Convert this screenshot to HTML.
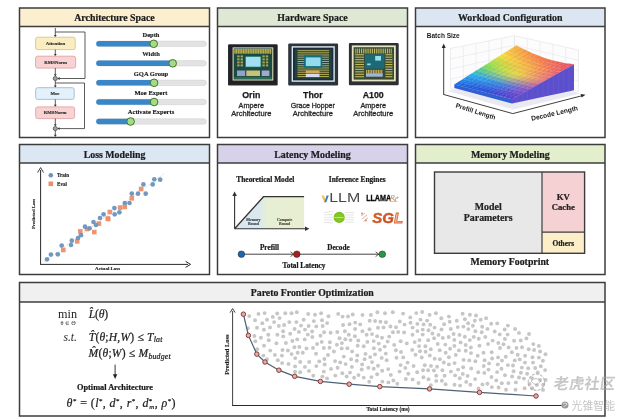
<!DOCTYPE html>
<html><head><meta charset="utf-8"><title>Framework Overview</title>
<style>html,body{margin:0;padding:0;background:#fff;} svg{display:block;}</style>
</head><body>
<svg width="627" height="419" viewBox="0 0 627 419"><rect x="19.5" y="8" width="190.0" height="129.5" fill="#ffffff"/>
<rect x="19.5" y="8" width="190.0" height="18.5" fill="#fcefcf"/>
<line x1="19.5" y1="26.5" x2="209.5" y2="26.5" stroke="#3c3c3c" stroke-width="1.3"/>
<rect x="19.5" y="8" width="190.0" height="129.5" fill="none" stroke="#3c3c3c" stroke-width="1.5"/>
<text x="114.5" y="21.408" font-family="'Liberation Serif', 'Times New Roman', serif" font-size="9.9" font-weight="bold" font-style="normal" text-anchor="middle" fill="#1c1c1c"  stroke="#1c1c1c" stroke-width="0.22">Architecture Space</text>
<rect x="217.5" y="8" width="190.0" height="129.5" fill="#ffffff"/>
<rect x="217.5" y="8" width="190.0" height="18.5" fill="#dfe8d4"/>
<line x1="217.5" y1="26.5" x2="407.5" y2="26.5" stroke="#3c3c3c" stroke-width="1.3"/>
<rect x="217.5" y="8" width="190.0" height="129.5" fill="none" stroke="#3c3c3c" stroke-width="1.5"/>
<text x="312.5" y="21.408" font-family="'Liberation Serif', 'Times New Roman', serif" font-size="9.9" font-weight="bold" font-style="normal" text-anchor="middle" fill="#1c1c1c"  stroke="#1c1c1c" stroke-width="0.22">Hardware Space</text>
<rect x="415.5" y="8" width="189.5" height="129.5" fill="#ffffff"/>
<rect x="415.5" y="8" width="189.5" height="18.5" fill="#dce6f2"/>
<line x1="415.5" y1="26.5" x2="605" y2="26.5" stroke="#3c3c3c" stroke-width="1.3"/>
<rect x="415.5" y="8" width="189.5" height="129.5" fill="none" stroke="#3c3c3c" stroke-width="1.5"/>
<text x="510.25" y="21.408" font-family="'Liberation Serif', 'Times New Roman', serif" font-size="9.9" font-weight="bold" font-style="normal" text-anchor="middle" fill="#1c1c1c"  stroke="#1c1c1c" stroke-width="0.22">Workload Configuration</text>
<rect x="19.5" y="144.5" width="190.0" height="130.0" fill="#ffffff"/>
<rect x="19.5" y="144.5" width="190.0" height="18.5" fill="#dbe7f3"/>
<line x1="19.5" y1="163" x2="209.5" y2="163" stroke="#3c3c3c" stroke-width="1.3"/>
<rect x="19.5" y="144.5" width="190.0" height="130.0" fill="none" stroke="#3c3c3c" stroke-width="1.5"/>
<text x="114.5" y="157.908" font-family="'Liberation Serif', 'Times New Roman', serif" font-size="9.9" font-weight="bold" font-style="normal" text-anchor="middle" fill="#1c1c1c"  stroke="#1c1c1c" stroke-width="0.22">Loss Modeling</text>
<rect x="217.5" y="144.5" width="190.0" height="130.0" fill="#ffffff"/>
<rect x="217.5" y="144.5" width="190.0" height="18.5" fill="#d7d2ea"/>
<line x1="217.5" y1="163" x2="407.5" y2="163" stroke="#3c3c3c" stroke-width="1.3"/>
<rect x="217.5" y="144.5" width="190.0" height="130.0" fill="none" stroke="#3c3c3c" stroke-width="1.5"/>
<text x="312.5" y="157.908" font-family="'Liberation Serif', 'Times New Roman', serif" font-size="9.9" font-weight="bold" font-style="normal" text-anchor="middle" fill="#1c1c1c"  stroke="#1c1c1c" stroke-width="0.22">Latency Modeling</text>
<rect x="415.5" y="144.5" width="189.5" height="130.0" fill="#ffffff"/>
<rect x="415.5" y="144.5" width="189.5" height="18.5" fill="#e3eecd"/>
<line x1="415.5" y1="163" x2="605" y2="163" stroke="#3c3c3c" stroke-width="1.3"/>
<rect x="415.5" y="144.5" width="189.5" height="130.0" fill="none" stroke="#3c3c3c" stroke-width="1.5"/>
<text x="510.25" y="157.908" font-family="'Liberation Serif', 'Times New Roman', serif" font-size="9.9" font-weight="bold" font-style="normal" text-anchor="middle" fill="#1c1c1c"  stroke="#1c1c1c" stroke-width="0.22">Memory Modeling</text>
<rect x="19.5" y="282.5" width="585.5" height="133.5" fill="#ffffff"/>
<rect x="19.5" y="282.5" width="585.5" height="19.5" fill="#f0f0f0"/>
<line x1="19.5" y1="302" x2="605" y2="302" stroke="#3c3c3c" stroke-width="1.3"/>
<rect x="19.5" y="282.5" width="585.5" height="133.5" fill="none" stroke="#3c3c3c" stroke-width="1.5"/>
<text x="312.25" y="296.366" font-family="'Liberation Serif', 'Times New Roman', serif" font-size="9.8" font-weight="bold" font-style="normal" text-anchor="middle" fill="#1c1c1c"  stroke="#1c1c1c" stroke-width="0.22">Pareto Frontier Optimization</text>
<polyline points="55.3,32 85,32 85,78.5" fill="none" stroke="#333" stroke-width="0.8"/>
<line x1="55.3" y1="28" x2="55.3" y2="35.400000000000006" stroke="#333" stroke-width="0.8"/>
<path d="M53.9,35.0 L56.699999999999996,35.0 L55.3,37.2 Z" fill="#333"/>
<rect x="35.6" y="37.2" width="39.6" height="12.399999999999999" rx="2" fill="#fbedc2" stroke="#d9c487" stroke-width="0.9"/>
<text x="55.400000000000006" y="45.10000000000001" font-family="'Liberation Serif', 'Times New Roman', serif" font-size="4.8" font-weight="bold" font-style="normal" text-anchor="middle" fill="#2a2a2a"  stroke="#2a2a2a" stroke-width="0.14">Attention</text>
<line x1="55.3" y1="49.6" x2="55.3" y2="54.400000000000006" stroke="#333" stroke-width="0.8"/>
<path d="M53.9,54.0 L56.699999999999996,54.0 L55.3,56.2 Z" fill="#333"/>
<rect x="35.6" y="56.2" width="39.99999999999999" height="11.899999999999991" rx="2" fill="#f9d3d3" stroke="#e0a4a4" stroke-width="0.9"/>
<text x="55.599999999999994" y="63.85" font-family="'Liberation Serif', 'Times New Roman', serif" font-size="4.8" font-weight="bold" font-style="normal" text-anchor="middle" fill="#2a2a2a"  stroke="#2a2a2a" stroke-width="0.14">RMSNorm</text>
<line x1="55.3" y1="68.1" x2="55.3" y2="74.60000000000001" stroke="#333" stroke-width="0.8"/>
<path d="M53.9,74.2 L56.699999999999996,74.2 L55.3,76.4 Z" fill="#333"/>
<circle cx="55.3" cy="78.5" r="2.1" fill="#a0a0a0" stroke="#444" stroke-width="0.7"/>
<line x1="85" y1="78.5" x2="59.199999999999996" y2="78.5" stroke="#333" stroke-width="0.8"/>
<path d="M59.6,77.1 L59.6,79.9 L57.4,78.5 Z" fill="#333"/>
<polyline points="55.3,83 84.5,83 84.5,128.6" fill="none" stroke="#333" stroke-width="0.8"/>
<line x1="55.3" y1="80.6" x2="55.3" y2="85.9" stroke="#333" stroke-width="0.8"/>
<path d="M53.9,85.5 L56.699999999999996,85.5 L55.3,87.7 Z" fill="#333"/>
<rect x="35.7" y="87.7" width="38.5" height="11.700000000000003" rx="2" fill="#e2f1fb" stroke="#9dbbd3" stroke-width="0.9"/>
<text x="54.95" y="95.25000000000001" font-family="'Liberation Serif', 'Times New Roman', serif" font-size="4.8" font-weight="bold" font-style="normal" text-anchor="middle" fill="#2a2a2a"  stroke="#2a2a2a" stroke-width="0.14">Moe</text>
<line x1="55.3" y1="99.4" x2="55.3" y2="105.10000000000001" stroke="#333" stroke-width="0.8"/>
<path d="M53.9,104.7 L56.699999999999996,104.7 L55.3,106.9 Z" fill="#333"/>
<rect x="35.7" y="106.9" width="38.89999999999999" height="11.699999999999989" rx="2" fill="#f9d3d3" stroke="#e0a4a4" stroke-width="0.9"/>
<text x="55.15" y="114.45" font-family="'Liberation Serif', 'Times New Roman', serif" font-size="4.8" font-weight="bold" font-style="normal" text-anchor="middle" fill="#2a2a2a"  stroke="#2a2a2a" stroke-width="0.14">RMSNorm</text>
<line x1="55.3" y1="118.6" x2="55.3" y2="124.7" stroke="#333" stroke-width="0.8"/>
<path d="M53.9,124.3 L56.699999999999996,124.3 L55.3,126.5 Z" fill="#333"/>
<circle cx="55.3" cy="128.6" r="2.1" fill="#a0a0a0" stroke="#444" stroke-width="0.7"/>
<line x1="84.5" y1="128.6" x2="59.199999999999996" y2="128.6" stroke="#333" stroke-width="0.8"/>
<path d="M59.6,127.19999999999999 L59.6,130.0 L57.4,128.6 Z" fill="#333"/>
<line x1="55.3" y1="130.7" x2="55.3" y2="135.2" stroke="#333" stroke-width="0.8"/>
<path d="M53.9,134.8 L56.699999999999996,134.8 L55.3,137 Z" fill="#333"/>
<rect x="96.2" y="41.099999999999994" width="110.2" height="5.4" rx="2.7" fill="#e3e3e3" stroke="#cfcfcf" stroke-width="0.5"/>
<rect x="96.2" y="41.099999999999994" width="57.499999999999986" height="5.4" rx="2.7" fill="#3a87c8"/>
<circle cx="153.7" cy="43.8" r="3.8" fill="#a6d98a" stroke="#3f7a2a" stroke-width="1"/>
<text x="151" y="36.5" font-family="'Liberation Serif', 'Times New Roman', serif" font-size="6.5" font-weight="bold" font-style="normal" text-anchor="middle" fill="#1a1a1a"  stroke="#1a1a1a" stroke-width="0.14">Depth</text>
<rect x="96.2" y="60.599999999999994" width="110.2" height="5.4" rx="2.7" fill="#e3e3e3" stroke="#cfcfcf" stroke-width="0.5"/>
<rect x="96.2" y="60.599999999999994" width="76.49999999999999" height="5.4" rx="2.7" fill="#3a87c8"/>
<circle cx="172.7" cy="63.3" r="3.8" fill="#a6d98a" stroke="#3f7a2a" stroke-width="1"/>
<text x="151" y="56.0" font-family="'Liberation Serif', 'Times New Roman', serif" font-size="6.5" font-weight="bold" font-style="normal" text-anchor="middle" fill="#1a1a1a"  stroke="#1a1a1a" stroke-width="0.14">Width</text>
<rect x="96.2" y="80.1" width="110.2" height="5.4" rx="2.7" fill="#e3e3e3" stroke="#cfcfcf" stroke-width="0.5"/>
<rect x="96.2" y="80.1" width="57.89999999999999" height="5.4" rx="2.7" fill="#3a87c8"/>
<circle cx="154.1" cy="82.8" r="3.8" fill="#a6d98a" stroke="#3f7a2a" stroke-width="1"/>
<text x="151" y="75.5" font-family="'Liberation Serif', 'Times New Roman', serif" font-size="6.5" font-weight="bold" font-style="normal" text-anchor="middle" fill="#1a1a1a"  stroke="#1a1a1a" stroke-width="0.14">GQA Group</text>
<rect x="96.2" y="99.3" width="110.2" height="5.4" rx="2.7" fill="#e3e3e3" stroke="#cfcfcf" stroke-width="0.5"/>
<rect x="96.2" y="99.3" width="57.89999999999999" height="5.4" rx="2.7" fill="#3a87c8"/>
<circle cx="154.1" cy="102.0" r="3.8" fill="#a6d98a" stroke="#3f7a2a" stroke-width="1"/>
<text x="151" y="94.7" font-family="'Liberation Serif', 'Times New Roman', serif" font-size="6.5" font-weight="bold" font-style="normal" text-anchor="middle" fill="#1a1a1a"  stroke="#1a1a1a" stroke-width="0.14">Moe Expert</text>
<rect x="96.2" y="118.8" width="110.2" height="5.4" rx="2.7" fill="#e3e3e3" stroke="#cfcfcf" stroke-width="0.5"/>
<rect x="96.2" y="118.8" width="34.39999999999999" height="5.4" rx="2.7" fill="#3a87c8"/>
<circle cx="130.6" cy="121.5" r="3.8" fill="#a6d98a" stroke="#3f7a2a" stroke-width="1"/>
<text x="151" y="114.2" font-family="'Liberation Serif', 'Times New Roman', serif" font-size="6.5" font-weight="bold" font-style="normal" text-anchor="middle" fill="#1a1a1a"  stroke="#1a1a1a" stroke-width="0.14">Activate Experts</text>
<rect x="228.00" y="44.20" width="49.70" height="41.20" fill="#2a2d31" rx="1.2"/>
<rect x="229.00" y="45.20" width="47.70" height="39.20" fill="#1f2226" />
<rect x="232.60" y="47.40" width="40.70" height="33.10" fill="#ece6bf" />
<rect x="233.60" y="48.40" width="38.70" height="31.10" fill="#1d4a40" />
<rect x="234.40" y="49.00" width="37.10" height="4.60" fill="#7f7c38" />
<rect x="234.60" y="49.00" width="0.80" height="4.60" fill="#c4b860" />
<rect x="236.29" y="49.00" width="0.80" height="4.60" fill="#c4b860" />
<rect x="237.97" y="49.00" width="0.80" height="4.60" fill="#c4b860" />
<rect x="239.66" y="49.00" width="0.80" height="4.60" fill="#c4b860" />
<rect x="241.35" y="49.00" width="0.80" height="4.60" fill="#c4b860" />
<rect x="243.03" y="49.00" width="0.80" height="4.60" fill="#c4b860" />
<rect x="244.72" y="49.00" width="0.80" height="4.60" fill="#c4b860" />
<rect x="246.40" y="49.00" width="0.80" height="4.60" fill="#c4b860" />
<rect x="248.09" y="49.00" width="0.80" height="4.60" fill="#c4b860" />
<rect x="249.78" y="49.00" width="0.80" height="4.60" fill="#c4b860" />
<rect x="251.46" y="49.00" width="0.80" height="4.60" fill="#c4b860" />
<rect x="253.15" y="49.00" width="0.80" height="4.60" fill="#c4b860" />
<rect x="254.84" y="49.00" width="0.80" height="4.60" fill="#c4b860" />
<rect x="256.52" y="49.00" width="0.80" height="4.60" fill="#c4b860" />
<rect x="258.21" y="49.00" width="0.80" height="4.60" fill="#c4b860" />
<rect x="259.90" y="49.00" width="0.80" height="4.60" fill="#c4b860" />
<rect x="261.58" y="49.00" width="0.80" height="4.60" fill="#c4b860" />
<rect x="263.27" y="49.00" width="0.80" height="4.60" fill="#c4b860" />
<rect x="264.95" y="49.00" width="0.80" height="4.60" fill="#c4b860" />
<rect x="266.64" y="49.00" width="0.80" height="4.60" fill="#c4b860" />
<rect x="268.33" y="49.00" width="0.80" height="4.60" fill="#c4b860" />
<rect x="270.01" y="49.00" width="0.80" height="4.60" fill="#c4b860" />
<rect x="237.20" y="55.40" width="2.40" height="2.00" fill="#a8a450" />
<rect x="237.20" y="58.40" width="2.40" height="2.00" fill="#a8a450" />
<rect x="237.20" y="61.40" width="2.40" height="2.00" fill="#a8a450" />
<rect x="237.20" y="64.40" width="2.40" height="2.00" fill="#a8a450" />
<rect x="240.60" y="55.40" width="2.40" height="2.00" fill="#a8a450" />
<rect x="240.60" y="58.40" width="2.40" height="2.00" fill="#a8a450" />
<rect x="240.60" y="61.40" width="2.40" height="2.00" fill="#a8a450" />
<rect x="240.60" y="64.40" width="2.40" height="2.00" fill="#a8a450" />
<rect x="262.40" y="55.40" width="2.40" height="2.00" fill="#a8a450" />
<rect x="262.40" y="58.40" width="2.40" height="2.00" fill="#a8a450" />
<rect x="262.40" y="61.40" width="2.40" height="2.00" fill="#a8a450" />
<rect x="262.40" y="64.40" width="2.40" height="2.00" fill="#a8a450" />
<rect x="265.80" y="55.40" width="2.40" height="2.00" fill="#a8a450" />
<rect x="265.80" y="58.40" width="2.40" height="2.00" fill="#a8a450" />
<rect x="265.80" y="61.40" width="2.40" height="2.00" fill="#a8a450" />
<rect x="265.80" y="64.40" width="2.40" height="2.00" fill="#a8a450" />
<rect x="245.00" y="56.00" width="16.40" height="11.50" fill="#127060" />
<rect x="245.80" y="56.80" width="14.80" height="9.90" fill="#a4def0" />
<rect x="237.00" y="70.50" width="8.20" height="5.50" fill="#93a2cc" />
<rect x="246.30" y="70.50" width="13.70" height="5.50" fill="#c9c275" />
<rect x="261.70" y="70.50" width="7.70" height="5.50" fill="#a5a6d2" />
<rect x="234.40" y="76.80" width="37.10" height="2.20" fill="#2c6a55" />
<rect x="288.20" y="43.60" width="49.90" height="41.80" fill="#2d333b" rx="1.2"/>
<rect x="291.60" y="46.20" width="43.20" height="35.60" fill="#dbe9f2" />
<rect x="293.00" y="47.60" width="40.40" height="32.80" fill="#1b2c40" />
<rect x="294.60" y="49.00" width="37.20" height="29.80" fill="#22413a" />
<rect x="297.50" y="50.20" width="31.50" height="1.00" fill="#b9ac58" />
<rect x="297.50" y="52.35" width="31.50" height="1.00" fill="#b9ac58" />
<rect x="297.50" y="54.51" width="31.50" height="1.00" fill="#b9ac58" />
<rect x="297.50" y="56.66" width="31.50" height="1.00" fill="#b9ac58" />
<rect x="297.50" y="58.82" width="31.50" height="1.00" fill="#b9ac58" />
<rect x="297.50" y="60.97" width="31.50" height="1.00" fill="#b9ac58" />
<rect x="297.50" y="63.12" width="31.50" height="1.00" fill="#b9ac58" />
<rect x="297.50" y="65.28" width="31.50" height="1.00" fill="#b9ac58" />
<rect x="297.50" y="67.43" width="31.50" height="1.00" fill="#b9ac58" />
<rect x="297.50" y="69.58" width="31.50" height="1.00" fill="#b9ac58" />
<rect x="297.50" y="71.74" width="31.50" height="1.00" fill="#b9ac58" />
<rect x="297.50" y="73.89" width="31.50" height="1.00" fill="#b9ac58" />
<rect x="297.50" y="76.05" width="31.50" height="1.00" fill="#b9ac58" />
<rect x="304.10" y="55.20" width="18.10" height="12.60" fill="#10707e" />
<rect x="305.80" y="57.40" width="14.80" height="8.70" fill="#95dbf0" />
<rect x="305.80" y="70.50" width="13.70" height="2.80" fill="#d2a85a" />
<rect x="305.80" y="73.80" width="13.70" height="3.30" fill="#d6dcef" />
<rect x="348.90" y="42.90" width="49.80" height="42.30" fill="#2c3032" rx="1.2"/>
<rect x="351.80" y="45.40" width="44.00" height="36.00" fill="#e6e2c4" />
<rect x="353.60" y="47.20" width="40.40" height="32.40" fill="#3a4a30" />
<rect x="355.40" y="48.60" width="0.90" height="4.90" fill="#cfc46a" />
<rect x="357.26" y="48.60" width="0.90" height="4.90" fill="#cfc46a" />
<rect x="359.12" y="48.60" width="0.90" height="4.90" fill="#cfc46a" />
<rect x="360.98" y="48.60" width="0.90" height="4.90" fill="#cfc46a" />
<rect x="362.84" y="48.60" width="0.90" height="4.90" fill="#cfc46a" />
<rect x="364.70" y="48.60" width="0.90" height="4.90" fill="#cfc46a" />
<rect x="366.56" y="48.60" width="0.90" height="4.90" fill="#cfc46a" />
<rect x="368.42" y="48.60" width="0.90" height="4.90" fill="#cfc46a" />
<rect x="370.28" y="48.60" width="0.90" height="4.90" fill="#cfc46a" />
<rect x="372.14" y="48.60" width="0.90" height="4.90" fill="#cfc46a" />
<rect x="374.00" y="48.60" width="0.90" height="4.90" fill="#cfc46a" />
<rect x="375.86" y="48.60" width="0.90" height="4.90" fill="#cfc46a" />
<rect x="377.72" y="48.60" width="0.90" height="4.90" fill="#cfc46a" />
<rect x="379.58" y="48.60" width="0.90" height="4.90" fill="#cfc46a" />
<rect x="381.44" y="48.60" width="0.90" height="4.90" fill="#cfc46a" />
<rect x="383.30" y="48.60" width="0.90" height="4.90" fill="#cfc46a" />
<rect x="385.16" y="48.60" width="0.90" height="4.90" fill="#cfc46a" />
<rect x="387.02" y="48.60" width="0.90" height="4.90" fill="#cfc46a" />
<rect x="388.88" y="48.60" width="0.90" height="4.90" fill="#cfc46a" />
<rect x="390.74" y="48.60" width="0.90" height="4.90" fill="#cfc46a" />
<rect x="355.20" y="54.20" width="8.80" height="1.10" fill="#c2b85e" />
<rect x="355.20" y="56.64" width="8.80" height="1.10" fill="#c2b85e" />
<rect x="355.20" y="59.08" width="8.80" height="1.10" fill="#c2b85e" />
<rect x="355.20" y="61.52" width="8.80" height="1.10" fill="#c2b85e" />
<rect x="355.20" y="63.96" width="8.80" height="1.10" fill="#c2b85e" />
<rect x="355.20" y="66.40" width="8.80" height="1.10" fill="#c2b85e" />
<rect x="355.20" y="68.84" width="8.80" height="1.10" fill="#c2b85e" />
<rect x="355.20" y="71.28" width="8.80" height="1.10" fill="#c2b85e" />
<rect x="355.20" y="73.72" width="8.80" height="1.10" fill="#c2b85e" />
<rect x="355.20" y="76.16" width="8.80" height="1.10" fill="#c2b85e" />
<rect x="385.40" y="54.20" width="7.00" height="1.10" fill="#c2b85e" />
<rect x="385.40" y="56.64" width="7.00" height="1.10" fill="#c2b85e" />
<rect x="385.40" y="59.08" width="7.00" height="1.10" fill="#c2b85e" />
<rect x="385.40" y="61.52" width="7.00" height="1.10" fill="#c2b85e" />
<rect x="385.40" y="63.96" width="7.00" height="1.10" fill="#c2b85e" />
<rect x="385.40" y="66.40" width="7.00" height="1.10" fill="#c2b85e" />
<rect x="385.40" y="68.84" width="7.00" height="1.10" fill="#c2b85e" />
<rect x="385.40" y="71.28" width="7.00" height="1.10" fill="#c2b85e" />
<rect x="385.40" y="73.72" width="7.00" height="1.10" fill="#c2b85e" />
<rect x="385.40" y="76.16" width="7.00" height="1.10" fill="#c2b85e" />
<rect x="364.90" y="54.30" width="19.50" height="14.30" fill="#1c6a78" />
<rect x="375.20" y="56.00" width="5.80" height="4.60" fill="#96e0ee" />
<rect x="367.20" y="63.50" width="3.40" height="1.70" fill="#96e0ee" />
<rect x="366.20" y="69.80" width="1.00" height="3.40" fill="#d8b860" />
<rect x="367.87" y="69.80" width="1.00" height="3.40" fill="#d8b860" />
<rect x="369.54" y="69.80" width="1.00" height="3.40" fill="#d8b860" />
<rect x="371.21" y="69.80" width="1.00" height="3.40" fill="#d8b860" />
<rect x="372.88" y="69.80" width="1.00" height="3.40" fill="#d8b860" />
<rect x="374.55" y="69.80" width="1.00" height="3.40" fill="#d8b860" />
<rect x="376.22" y="69.80" width="1.00" height="3.40" fill="#d8b860" />
<rect x="377.89" y="69.80" width="1.00" height="3.40" fill="#d8b860" />
<rect x="379.56" y="69.80" width="1.00" height="3.40" fill="#d8b860" />
<rect x="381.23" y="69.80" width="1.00" height="3.40" fill="#d8b860" />
<rect x="366.00" y="73.20" width="16.70" height="3.50" fill="#9fb6da" />
<text x="251.3" y="98.4" font-family="'Liberation Sans', Arial, sans-serif" font-size="8.8" font-weight="bold" font-style="normal" text-anchor="middle" fill="#1a1a1a" stroke="#1a1a1a" stroke-width="0.25">Orin</text>
<text x="251.3" y="108.4" font-family="'Liberation Sans', Arial, sans-serif" font-size="7.3" font-weight="normal" font-style="normal" text-anchor="middle" fill="#2a2a2a" stroke="#2a2a2a" stroke-width="0.3">Ampere</text>
<text x="251.3" y="115.8" font-family="'Liberation Sans', Arial, sans-serif" font-size="7.5" font-weight="normal" font-style="normal" text-anchor="middle" fill="#2a2a2a" stroke="#2a2a2a" stroke-width="0.3">Architecture</text>
<text x="312.8" y="98.4" font-family="'Liberation Sans', Arial, sans-serif" font-size="8.8" font-weight="bold" font-style="normal" text-anchor="middle" fill="#1a1a1a" stroke="#1a1a1a" stroke-width="0.25">Thor</text>
<text x="312.8" y="108.4" font-family="'Liberation Sans', Arial, sans-serif" font-size="7.0" font-weight="normal" font-style="normal" text-anchor="middle" fill="#2a2a2a" stroke="#2a2a2a" stroke-width="0.3">Grace Hopper</text>
<text x="312.8" y="115.8" font-family="'Liberation Sans', Arial, sans-serif" font-size="7.5" font-weight="normal" font-style="normal" text-anchor="middle" fill="#2a2a2a" stroke="#2a2a2a" stroke-width="0.3">Architecture</text>
<text x="373.2" y="98.4" font-family="'Liberation Sans', Arial, sans-serif" font-size="8.8" font-weight="bold" font-style="normal" text-anchor="middle" fill="#1a1a1a" stroke="#1a1a1a" stroke-width="0.25">A100</text>
<text x="373.2" y="108.4" font-family="'Liberation Sans', Arial, sans-serif" font-size="7.3" font-weight="normal" font-style="normal" text-anchor="middle" fill="#2a2a2a" stroke="#2a2a2a" stroke-width="0.3">Ampere</text>
<text x="373.2" y="115.8" font-family="'Liberation Sans', Arial, sans-serif" font-size="7.5" font-weight="normal" font-style="normal" text-anchor="middle" fill="#2a2a2a" stroke="#2a2a2a" stroke-width="0.3">Architecture</text>
<polygon points="447.50,91.00 513.00,109.50 580.50,93.50 515.50,74.00" fill="#e9e9f1"/>
<polygon points="450.50,89.50 514.50,74.00 514.50,35.70 450.50,48.50" fill="#fcfcfd" stroke="#dcdce2" stroke-width="0.5"/>
<polygon points="514.50,74.00 578.50,91.50 578.50,50.00 514.50,35.70" fill="#fcfcfd" stroke="#dcdce2" stroke-width="0.5"/>
<line x1="463.30" y1="86.40" x2="463.30" y2="45.94" stroke="#e2e2e8" stroke-width="0.5"/>
<line x1="527.30" y1="77.50" x2="527.30" y2="38.56" stroke="#e2e2e8" stroke-width="0.5"/>
<line x1="476.10" y1="83.30" x2="476.10" y2="43.38" stroke="#e2e2e8" stroke-width="0.5"/>
<line x1="540.10" y1="81.00" x2="540.10" y2="41.42" stroke="#e2e2e8" stroke-width="0.5"/>
<line x1="488.90" y1="80.20" x2="488.90" y2="40.82" stroke="#e2e2e8" stroke-width="0.5"/>
<line x1="552.90" y1="84.50" x2="552.90" y2="44.28" stroke="#e2e2e8" stroke-width="0.5"/>
<line x1="501.70" y1="77.10" x2="501.70" y2="38.26" stroke="#e2e2e8" stroke-width="0.5"/>
<line x1="565.70" y1="88.00" x2="565.70" y2="47.14" stroke="#e2e2e8" stroke-width="0.5"/>
<line x1="450.50" y1="79.25" x2="514.50" y2="64.42" stroke="#e2e2e8" stroke-width="0.5"/>
<line x1="514.50" y1="64.42" x2="578.50" y2="81.12" stroke="#e2e2e8" stroke-width="0.5"/>
<line x1="450.50" y1="69.00" x2="514.50" y2="54.85" stroke="#e2e2e8" stroke-width="0.5"/>
<line x1="514.50" y1="54.85" x2="578.50" y2="70.75" stroke="#e2e2e8" stroke-width="0.5"/>
<line x1="450.50" y1="58.75" x2="514.50" y2="45.28" stroke="#e2e2e8" stroke-width="0.5"/>
<line x1="514.50" y1="45.28" x2="578.50" y2="60.38" stroke="#e2e2e8" stroke-width="0.5"/>
<polygon points="511.97,48.19 516.09,50.43 520.51,47.73 516.40,45.40" fill="rgb(247,175,71)" stroke="rgb(247,175,71)" stroke-width="0.35" stroke-opacity="0.6"/>
<polygon points="516.09,50.43 520.20,52.23 524.63,49.58 520.51,47.73" fill="rgb(247,166,72)" stroke="rgb(247,166,72)" stroke-width="0.35" stroke-opacity="0.6"/>
<polygon points="507.54,50.99 511.66,53.13 516.09,50.43 511.97,48.19" fill="rgb(247,190,68)" stroke="rgb(247,190,68)" stroke-width="0.35" stroke-opacity="0.6"/>
<polygon points="520.20,52.23 524.31,54.18 528.74,51.60 524.63,49.58" fill="rgb(247,158,73)" stroke="rgb(247,158,73)" stroke-width="0.35" stroke-opacity="0.6"/>
<polygon points="503.11,53.78 507.23,55.83 511.66,53.13 507.54,50.99" fill="rgb(246,205,65)" stroke="rgb(246,205,65)" stroke-width="0.35" stroke-opacity="0.6"/>
<polygon points="511.66,53.13 515.77,54.87 520.20,52.23 516.09,50.43" fill="rgb(247,182,69)" stroke="rgb(247,182,69)" stroke-width="0.35" stroke-opacity="0.6"/>
<polygon points="498.69,56.57 502.80,58.53 507.23,55.83 503.11,53.78" fill="rgb(246,220,62)" stroke="rgb(246,220,62)" stroke-width="0.35" stroke-opacity="0.6"/>
<polygon points="507.23,55.83 511.34,57.51 515.77,54.87 511.66,53.13" fill="rgb(247,198,66)" stroke="rgb(247,198,66)" stroke-width="0.35" stroke-opacity="0.6"/>
<polygon points="524.31,54.18 528.43,56.10 532.86,53.59 528.74,51.60" fill="rgb(246,150,74)" stroke="rgb(246,150,74)" stroke-width="0.35" stroke-opacity="0.6"/>
<polygon points="515.77,54.87 519.89,56.75 524.31,54.18 520.20,52.23" fill="rgb(247,174,70)" stroke="rgb(247,174,70)" stroke-width="0.35" stroke-opacity="0.6"/>
<polygon points="494.26,59.36 498.37,61.24 502.80,58.53 498.69,56.57" fill="rgb(213,221,67)" stroke="rgb(213,221,67)" stroke-width="0.35" stroke-opacity="0.6"/>
<polygon points="502.80,58.53 506.91,60.16 511.34,57.51 507.23,55.83" fill="rgb(246,213,63)" stroke="rgb(246,213,63)" stroke-width="0.35" stroke-opacity="0.6"/>
<polygon points="528.43,56.10 532.54,57.58 536.97,55.11 532.86,53.59" fill="rgb(246,141,75)" stroke="rgb(246,141,75)" stroke-width="0.35" stroke-opacity="0.6"/>
<polygon points="511.34,57.51 515.46,59.33 519.89,56.75 515.77,54.87" fill="rgb(247,190,67)" stroke="rgb(247,190,67)" stroke-width="0.35" stroke-opacity="0.6"/>
<polygon points="519.89,56.75 524.00,58.61 528.43,56.10 524.31,54.18" fill="rgb(247,166,71)" stroke="rgb(247,166,71)" stroke-width="0.35" stroke-opacity="0.6"/>
<polygon points="489.83,62.16 493.94,63.94 498.37,61.24 494.26,59.36" fill="rgb(181,223,72)" stroke="rgb(181,223,72)" stroke-width="0.35" stroke-opacity="0.6"/>
<polygon points="498.37,61.24 502.49,62.80 506.91,60.16 502.80,58.53" fill="rgb(218,216,67)" stroke="rgb(218,216,67)" stroke-width="0.35" stroke-opacity="0.6"/>
<polygon points="506.91,60.16 511.03,61.90 515.46,59.33 511.34,57.51" fill="rgb(247,206,64)" stroke="rgb(247,206,64)" stroke-width="0.35" stroke-opacity="0.6"/>
<polygon points="515.46,59.33 519.57,61.11 524.00,58.61 519.89,56.75" fill="rgb(247,183,68)" stroke="rgb(247,183,68)" stroke-width="0.35" stroke-opacity="0.6"/>
<polygon points="524.00,58.61 528.11,60.06 532.54,57.58 528.43,56.10" fill="rgb(247,159,72)" stroke="rgb(247,159,72)" stroke-width="0.35" stroke-opacity="0.6"/>
<polygon points="532.54,57.58 536.66,59.07 541.09,56.63 536.97,55.11" fill="rgb(246,133,76)" stroke="rgb(246,133,76)" stroke-width="0.35" stroke-opacity="0.6"/>
<polygon points="493.94,63.94 498.06,65.45 502.49,62.80 498.37,61.24" fill="rgb(190,220,72)" stroke="rgb(190,220,72)" stroke-width="0.35" stroke-opacity="0.6"/>
<polygon points="485.40,64.95 489.51,66.64 493.94,63.94 489.83,62.16" fill="rgb(148,224,77)" stroke="rgb(148,224,77)" stroke-width="0.35" stroke-opacity="0.6"/>
<polygon points="502.49,62.80 506.60,64.48 511.03,61.90 506.91,60.16" fill="rgb(223,211,68)" stroke="rgb(223,211,68)" stroke-width="0.35" stroke-opacity="0.6"/>
<polygon points="511.03,61.90 515.14,63.62 519.57,61.11 515.46,59.33" fill="rgb(248,200,66)" stroke="rgb(248,200,66)" stroke-width="0.35" stroke-opacity="0.6"/>
<polygon points="519.57,61.11 523.69,62.53 528.11,60.06 524.00,58.61" fill="rgb(247,176,70)" stroke="rgb(247,176,70)" stroke-width="0.35" stroke-opacity="0.6"/>
<polygon points="536.66,59.07 540.77,60.60 545.20,58.19 541.09,56.63" fill="rgb(245,125,78)" stroke="rgb(245,125,78)" stroke-width="0.35" stroke-opacity="0.6"/>
<polygon points="528.11,60.06 532.23,61.51 536.66,59.07 532.54,57.58" fill="rgb(247,151,74)" stroke="rgb(247,151,74)" stroke-width="0.35" stroke-opacity="0.6"/>
<polygon points="498.06,65.45 502.17,67.05 506.60,64.48 502.49,62.80" fill="rgb(199,217,71)" stroke="rgb(199,217,71)" stroke-width="0.35" stroke-opacity="0.6"/>
<polygon points="480.97,67.74 485.09,69.34 489.51,66.64 485.40,64.95" fill="rgb(119,217,102)" stroke="rgb(119,217,102)" stroke-width="0.35" stroke-opacity="0.6"/>
<polygon points="506.60,64.48 510.71,66.13 515.14,63.62 511.03,61.90" fill="rgb(228,207,68)" stroke="rgb(228,207,68)" stroke-width="0.35" stroke-opacity="0.6"/>
<polygon points="515.14,63.62 519.26,65.00 523.69,62.53 519.57,61.11" fill="rgb(248,193,67)" stroke="rgb(248,193,67)" stroke-width="0.35" stroke-opacity="0.6"/>
<polygon points="540.77,60.60 544.89,61.99 549.31,59.61 545.20,58.19" fill="rgb(245,118,80)" stroke="rgb(245,118,80)" stroke-width="0.35" stroke-opacity="0.6"/>
<polygon points="489.51,66.64 493.63,68.09 498.06,65.45 493.94,63.94" fill="rgb(162,223,76)" stroke="rgb(162,223,76)" stroke-width="0.35" stroke-opacity="0.6"/>
<polygon points="523.69,62.53 527.80,63.95 532.23,61.51 528.11,60.06" fill="rgb(248,168,71)" stroke="rgb(248,168,71)" stroke-width="0.35" stroke-opacity="0.6"/>
<polygon points="532.23,61.51 536.34,63.00 540.77,60.60 536.66,59.07" fill="rgb(247,143,75)" stroke="rgb(247,143,75)" stroke-width="0.35" stroke-opacity="0.6"/>
<polygon points="502.17,67.05 506.29,68.64 510.71,66.13 506.60,64.48" fill="rgb(208,214,71)" stroke="rgb(208,214,71)" stroke-width="0.35" stroke-opacity="0.6"/>
<polygon points="510.71,66.13 514.83,67.48 519.26,65.00 515.14,63.62" fill="rgb(232,202,69)" stroke="rgb(232,202,69)" stroke-width="0.35" stroke-opacity="0.6"/>
<polygon points="476.54,70.54 480.66,72.04 485.09,69.34 480.97,67.74" fill="rgb(92,203,147)" stroke="rgb(92,203,147)" stroke-width="0.35" stroke-opacity="0.6"/>
<polygon points="485.09,69.34 489.20,70.73 493.63,68.09 489.51,66.64" fill="rgb(132,217,100)" stroke="rgb(132,217,100)" stroke-width="0.35" stroke-opacity="0.6"/>
<polygon points="493.63,68.09 497.74,69.63 502.17,67.05 498.06,65.45" fill="rgb(175,222,75)" stroke="rgb(175,222,75)" stroke-width="0.35" stroke-opacity="0.6"/>
<polygon points="519.26,65.00 523.37,66.39 527.80,63.95 523.69,62.53" fill="rgb(249,186,68)" stroke="rgb(249,186,68)" stroke-width="0.35" stroke-opacity="0.6"/>
<polygon points="527.80,63.95 531.91,65.41 536.34,63.00 532.23,61.51" fill="rgb(248,161,72)" stroke="rgb(248,161,72)" stroke-width="0.35" stroke-opacity="0.6"/>
<polygon points="536.34,63.00 540.46,64.37 544.89,61.99 540.77,60.60" fill="rgb(246,135,77)" stroke="rgb(246,135,77)" stroke-width="0.35" stroke-opacity="0.6"/>
<polygon points="544.89,61.99 549.00,63.01 553.43,60.63 549.31,59.61" fill="rgb(243,112,83)" stroke="rgb(243,112,83)" stroke-width="0.35" stroke-opacity="0.6"/>
<polygon points="506.29,68.64 510.40,69.95 514.83,67.48 510.71,66.13" fill="rgb(217,210,71)" stroke="rgb(217,210,71)" stroke-width="0.35" stroke-opacity="0.6"/>
<polygon points="489.20,70.73 493.31,72.20 497.74,69.63 493.63,68.09" fill="rgb(146,216,99)" stroke="rgb(146,216,99)" stroke-width="0.35" stroke-opacity="0.6"/>
<polygon points="514.83,67.48 518.94,68.83 523.37,66.39 519.26,65.00" fill="rgb(237,197,69)" stroke="rgb(237,197,69)" stroke-width="0.35" stroke-opacity="0.6"/>
<polygon points="472.11,73.33 476.23,74.74 480.66,72.04 476.54,70.54" fill="rgb(66,189,193)" stroke="rgb(66,189,193)" stroke-width="0.35" stroke-opacity="0.6"/>
<polygon points="480.66,72.04 484.77,73.38 489.20,70.73 485.09,69.34" fill="rgb(103,201,146)" stroke="rgb(103,201,146)" stroke-width="0.35" stroke-opacity="0.6"/>
<polygon points="497.74,69.63 501.86,71.15 506.29,68.64 502.17,67.05" fill="rgb(188,221,74)" stroke="rgb(188,221,74)" stroke-width="0.35" stroke-opacity="0.6"/>
<polygon points="523.37,66.39 527.49,67.81 531.91,65.41 527.80,63.95" fill="rgb(249,179,69)" stroke="rgb(249,179,69)" stroke-width="0.35" stroke-opacity="0.6"/>
<polygon points="531.91,65.41 536.03,66.75 540.46,64.37 536.34,63.00" fill="rgb(247,152,75)" stroke="rgb(247,152,75)" stroke-width="0.35" stroke-opacity="0.6"/>
<polygon points="549.00,63.01 553.11,63.99 557.54,61.60 553.43,60.63" fill="rgb(242,106,87)" stroke="rgb(242,106,87)" stroke-width="0.35" stroke-opacity="0.6"/>
<polygon points="540.46,64.37 544.57,65.39 549.00,63.01 544.89,61.99" fill="rgb(245,127,82)" stroke="rgb(245,127,82)" stroke-width="0.35" stroke-opacity="0.6"/>
<polygon points="510.40,69.95 514.51,71.27 518.94,68.83 514.83,67.48" fill="rgb(226,207,71)" stroke="rgb(226,207,71)" stroke-width="0.35" stroke-opacity="0.6"/>
<polygon points="467.69,76.12 471.80,77.45 476.23,74.74 472.11,73.33" fill="rgb(39,175,239)" stroke="rgb(39,175,239)" stroke-width="0.35" stroke-opacity="0.6"/>
<polygon points="484.77,73.38 488.89,74.78 493.31,72.20 489.20,70.73" fill="rgb(113,199,144)" stroke="rgb(113,199,144)" stroke-width="0.35" stroke-opacity="0.6"/>
<polygon points="493.31,72.20 497.43,73.65 501.86,71.15 497.74,69.63" fill="rgb(160,215,98)" stroke="rgb(160,215,98)" stroke-width="0.35" stroke-opacity="0.6"/>
<polygon points="501.86,71.15 505.97,72.43 510.40,69.95 506.29,68.64" fill="rgb(201,219,73)" stroke="rgb(201,219,73)" stroke-width="0.35" stroke-opacity="0.6"/>
<polygon points="518.94,68.83 523.06,70.21 527.49,67.81 523.37,66.39" fill="rgb(242,192,70)" stroke="rgb(242,192,70)" stroke-width="0.35" stroke-opacity="0.6"/>
<polygon points="527.49,67.81 531.60,69.12 536.03,66.75 531.91,65.41" fill="rgb(249,170,73)" stroke="rgb(249,170,73)" stroke-width="0.35" stroke-opacity="0.6"/>
<polygon points="553.11,63.99 557.23,64.98 561.66,62.59 557.54,61.60" fill="rgb(240,100,91)" stroke="rgb(240,100,91)" stroke-width="0.35" stroke-opacity="0.6"/>
<polygon points="476.23,74.74 480.34,76.02 484.77,73.38 480.66,72.04" fill="rgb(73,185,191)" stroke="rgb(73,185,191)" stroke-width="0.35" stroke-opacity="0.6"/>
<polygon points="536.03,66.75 540.14,67.77 544.57,65.39 540.46,64.37" fill="rgb(246,143,80)" stroke="rgb(246,143,80)" stroke-width="0.35" stroke-opacity="0.6"/>
<polygon points="544.57,65.39 548.69,66.38 553.11,63.99 549.00,63.01" fill="rgb(243,119,86)" stroke="rgb(243,119,86)" stroke-width="0.35" stroke-opacity="0.6"/>
<polygon points="497.43,73.65 501.54,74.90 505.97,72.43 501.86,71.15" fill="rgb(173,214,97)" stroke="rgb(173,214,97)" stroke-width="0.35" stroke-opacity="0.6"/>
<polygon points="514.51,71.27 518.63,72.62 523.06,70.21 518.94,68.83" fill="rgb(235,204,71)" stroke="rgb(235,204,71)" stroke-width="0.35" stroke-opacity="0.6"/>
<polygon points="523.06,70.21 527.17,71.50 531.60,69.12 527.49,67.81" fill="rgb(244,183,73)" stroke="rgb(244,183,73)" stroke-width="0.35" stroke-opacity="0.6"/>
<polygon points="557.23,64.98 561.34,65.84 565.77,63.43 561.66,62.59" fill="rgb(239,93,94)" stroke="rgb(239,93,94)" stroke-width="0.35" stroke-opacity="0.6"/>
<polygon points="463.26,78.91 467.37,80.15 471.80,77.45 467.69,76.12" fill="rgb(36,153,236)" stroke="rgb(36,153,236)" stroke-width="0.35" stroke-opacity="0.6"/>
<polygon points="471.80,77.45 475.91,78.67 480.34,76.02 476.23,74.74" fill="rgb(43,170,237)" stroke="rgb(43,170,237)" stroke-width="0.35" stroke-opacity="0.6"/>
<polygon points="480.34,76.02 484.46,77.35 488.89,74.78 484.77,73.38" fill="rgb(79,182,189)" stroke="rgb(79,182,189)" stroke-width="0.35" stroke-opacity="0.6"/>
<polygon points="488.89,74.78 493.00,76.16 497.43,73.65 493.31,72.20" fill="rgb(123,196,143)" stroke="rgb(123,196,143)" stroke-width="0.35" stroke-opacity="0.6"/>
<polygon points="505.97,72.43 510.09,73.71 514.51,71.27 510.40,69.95" fill="rgb(214,218,72)" stroke="rgb(214,218,72)" stroke-width="0.35" stroke-opacity="0.6"/>
<polygon points="531.60,69.12 535.71,70.15 540.14,67.77 536.03,66.75" fill="rgb(247,158,79)" stroke="rgb(247,158,79)" stroke-width="0.35" stroke-opacity="0.6"/>
<polygon points="540.14,67.77 544.26,68.76 548.69,66.38 544.57,65.39" fill="rgb(245,133,85)" stroke="rgb(245,133,85)" stroke-width="0.35" stroke-opacity="0.6"/>
<polygon points="548.69,66.38 552.80,67.37 557.23,64.98 553.11,63.99" fill="rgb(242,112,91)" stroke="rgb(242,112,91)" stroke-width="0.35" stroke-opacity="0.6"/>
<polygon points="518.63,72.62 522.74,73.88 527.17,71.50 523.06,70.21" fill="rgb(239,196,74)" stroke="rgb(239,196,74)" stroke-width="0.35" stroke-opacity="0.6"/>
<polygon points="561.34,65.84 565.46,66.29 569.89,63.84 565.77,63.43" fill="rgb(237,87,98)" stroke="rgb(237,87,98)" stroke-width="0.35" stroke-opacity="0.6"/>
<polygon points="475.91,78.67 480.03,79.93 484.46,77.35 480.34,76.02" fill="rgb(46,165,235)" stroke="rgb(46,165,235)" stroke-width="0.35" stroke-opacity="0.6"/>
<polygon points="493.00,76.16 497.11,77.38 501.54,74.90 497.43,73.65" fill="rgb(133,194,141)" stroke="rgb(133,194,141)" stroke-width="0.35" stroke-opacity="0.6"/>
<polygon points="501.54,74.90 505.66,76.16 510.09,73.71 505.97,72.43" fill="rgb(187,213,95)" stroke="rgb(187,213,95)" stroke-width="0.35" stroke-opacity="0.6"/>
<polygon points="458.83,81.71 462.94,82.85 467.37,80.15 463.26,78.91" fill="rgb(33,131,234)" stroke="rgb(33,131,234)" stroke-width="0.35" stroke-opacity="0.6"/>
<polygon points="467.37,80.15 471.49,81.31 475.91,78.67 471.80,77.45" fill="rgb(39,148,234)" stroke="rgb(39,148,234)" stroke-width="0.35" stroke-opacity="0.6"/>
<polygon points="484.46,77.35 488.57,78.67 493.00,76.16 488.89,74.78" fill="rgb(86,178,188)" stroke="rgb(86,178,188)" stroke-width="0.35" stroke-opacity="0.6"/>
<polygon points="510.09,73.71 514.20,75.02 518.63,72.62 514.51,71.27" fill="rgb(227,217,72)" stroke="rgb(227,217,72)" stroke-width="0.35" stroke-opacity="0.6"/>
<polygon points="527.17,71.50 531.29,72.53 535.71,70.15 531.60,69.12" fill="rgb(243,171,80)" stroke="rgb(243,171,80)" stroke-width="0.35" stroke-opacity="0.6"/>
<polygon points="535.71,70.15 539.83,71.15 544.26,68.76 540.14,67.77" fill="rgb(246,147,85)" stroke="rgb(246,147,85)" stroke-width="0.35" stroke-opacity="0.6"/>
<polygon points="544.26,68.76 548.37,69.76 552.80,67.37 548.69,66.38" fill="rgb(243,124,91)" stroke="rgb(243,124,91)" stroke-width="0.35" stroke-opacity="0.6"/>
<polygon points="552.80,67.37 556.91,68.24 561.34,65.84 557.23,64.98" fill="rgb(240,104,95)" stroke="rgb(240,104,95)" stroke-width="0.35" stroke-opacity="0.6"/>
<polygon points="454.40,84.50 458.51,85.55 462.94,82.85 458.83,81.71" fill="rgb(30,109,232)" stroke="rgb(30,109,232)" stroke-width="0.35" stroke-opacity="0.6"/>
<polygon points="462.94,82.85 467.06,83.96 471.49,81.31 467.37,80.15" fill="rgb(35,126,232)" stroke="rgb(35,126,232)" stroke-width="0.35" stroke-opacity="0.6"/>
<polygon points="471.49,81.31 475.60,82.50 480.03,79.93 475.91,78.67" fill="rgb(42,143,233)" stroke="rgb(42,143,233)" stroke-width="0.35" stroke-opacity="0.6"/>
<polygon points="480.03,79.93 484.14,81.18 488.57,78.67 484.46,77.35" fill="rgb(50,160,233)" stroke="rgb(50,160,233)" stroke-width="0.35" stroke-opacity="0.6"/>
<polygon points="488.57,78.67 492.69,79.85 497.11,77.38 493.00,76.16" fill="rgb(93,174,186)" stroke="rgb(93,174,186)" stroke-width="0.35" stroke-opacity="0.6"/>
<polygon points="497.11,77.38 501.23,78.60 505.66,76.16 501.54,74.90" fill="rgb(143,192,140)" stroke="rgb(143,192,140)" stroke-width="0.35" stroke-opacity="0.6"/>
<polygon points="505.66,76.16 509.77,77.43 514.20,75.02 510.09,73.71" fill="rgb(200,212,94)" stroke="rgb(200,212,94)" stroke-width="0.35" stroke-opacity="0.6"/>
<polygon points="514.20,75.02 518.31,76.26 522.74,73.88 518.63,72.62" fill="rgb(234,209,75)" stroke="rgb(234,209,75)" stroke-width="0.35" stroke-opacity="0.6"/>
<polygon points="522.74,73.88 526.86,74.91 531.29,72.53 527.17,71.50" fill="rgb(239,183,82)" stroke="rgb(239,183,82)" stroke-width="0.35" stroke-opacity="0.6"/>
<polygon points="531.29,72.53 535.40,73.53 539.83,71.15 535.71,70.15" fill="rgb(242,158,87)" stroke="rgb(242,158,87)" stroke-width="0.35" stroke-opacity="0.6"/>
<polygon points="539.83,71.15 543.94,72.15 548.37,69.76 544.26,68.76" fill="rgb(245,136,91)" stroke="rgb(245,136,91)" stroke-width="0.35" stroke-opacity="0.6"/>
<polygon points="548.37,69.76 552.49,70.65 556.91,68.24 552.80,67.37" fill="rgb(242,114,96)" stroke="rgb(242,114,96)" stroke-width="0.35" stroke-opacity="0.6"/>
<polygon points="556.91,68.24 561.03,68.74 565.46,66.29 561.34,65.84" fill="rgb(239,96,99)" stroke="rgb(239,96,99)" stroke-width="0.35" stroke-opacity="0.6"/>
<polygon points="565.46,66.29 569.57,66.89 574.00,64.40 569.89,63.84" fill="rgb(236,81,101)" stroke="rgb(236,81,101)" stroke-width="0.35" stroke-opacity="0.6"/>
<polygon points="484.14,81.18 488.26,82.33 492.69,79.85 488.57,78.67" fill="rgb(53,154,231)" stroke="rgb(53,154,231)" stroke-width="0.35" stroke-opacity="0.6"/>
<polygon points="509.77,77.43 513.89,78.63 518.31,76.26 514.20,75.02" fill="rgb(208,205,97)" stroke="rgb(208,205,97)" stroke-width="0.35" stroke-opacity="0.6"/>
<polygon points="526.86,74.91 530.97,75.92 535.40,73.53 531.29,72.53" fill="rgb(239,169,89)" stroke="rgb(239,169,89)" stroke-width="0.35" stroke-opacity="0.6"/>
<polygon points="535.40,73.53 539.51,74.54 543.94,72.15 539.83,71.15" fill="rgb(241,146,94)" stroke="rgb(241,146,94)" stroke-width="0.35" stroke-opacity="0.6"/>
<polygon points="543.94,72.15 548.06,73.05 552.49,70.65 548.37,69.76" fill="rgb(243,124,97)" stroke="rgb(243,124,97)" stroke-width="0.35" stroke-opacity="0.6"/>
<polygon points="552.49,70.65 556.60,71.20 561.03,68.74 556.91,68.24" fill="rgb(240,104,101)" stroke="rgb(240,104,101)" stroke-width="0.35" stroke-opacity="0.6"/>
<polygon points="467.06,83.96 471.17,85.08 475.60,82.50 471.49,81.31" fill="rgb(38,122,231)" stroke="rgb(38,122,231)" stroke-width="0.35" stroke-opacity="0.6"/>
<polygon points="458.51,85.55 462.63,86.60 467.06,83.96 462.94,82.85" fill="rgb(32,104,230)" stroke="rgb(32,104,230)" stroke-width="0.35" stroke-opacity="0.6"/>
<polygon points="475.60,82.50 479.71,83.68 484.14,81.18 480.03,79.93" fill="rgb(45,138,231)" stroke="rgb(45,138,231)" stroke-width="0.35" stroke-opacity="0.6"/>
<polygon points="492.69,79.85 496.80,81.04 501.23,78.60 497.11,77.38" fill="rgb(100,171,184)" stroke="rgb(100,171,184)" stroke-width="0.35" stroke-opacity="0.6"/>
<polygon points="501.23,78.60 505.34,79.83 509.77,77.43 505.66,76.16" fill="rgb(154,190,138)" stroke="rgb(154,190,138)" stroke-width="0.35" stroke-opacity="0.6"/>
<polygon points="518.31,76.26 522.43,77.29 526.86,74.91 522.74,73.88" fill="rgb(235,195,84)" stroke="rgb(235,195,84)" stroke-width="0.35" stroke-opacity="0.6"/>
<polygon points="561.03,68.74 565.14,69.37 569.57,66.89 565.46,66.29" fill="rgb(237,88,104)" stroke="rgb(237,88,104)" stroke-width="0.35" stroke-opacity="0.6"/>
<polygon points="530.97,75.92 535.09,76.93 539.51,74.54 535.40,73.53" fill="rgb(238,156,97)" stroke="rgb(238,156,97)" stroke-width="0.35" stroke-opacity="0.6"/>
<polygon points="539.51,74.54 543.63,75.46 548.06,73.05 543.94,72.15" fill="rgb(241,133,100)" stroke="rgb(241,133,100)" stroke-width="0.35" stroke-opacity="0.6"/>
<polygon points="548.06,73.05 552.17,73.65 556.60,71.20 552.49,70.65" fill="rgb(242,113,103)" stroke="rgb(242,113,103)" stroke-width="0.35" stroke-opacity="0.6"/>
<polygon points="462.63,86.60 466.74,87.65 471.17,85.08 467.06,83.96" fill="rgb(34,100,229)" stroke="rgb(34,100,229)" stroke-width="0.35" stroke-opacity="0.6"/>
<polygon points="471.17,85.08 475.29,86.19 479.71,83.68 475.60,82.50" fill="rgb(40,117,229)" stroke="rgb(40,117,229)" stroke-width="0.35" stroke-opacity="0.6"/>
<polygon points="479.71,83.68 483.83,84.80 488.26,82.33 484.14,81.18" fill="rgb(48,134,229)" stroke="rgb(48,134,229)" stroke-width="0.35" stroke-opacity="0.6"/>
<polygon points="488.26,82.33 492.37,83.48 496.80,81.04 492.69,79.85" fill="rgb(56,149,229)" stroke="rgb(56,149,229)" stroke-width="0.35" stroke-opacity="0.6"/>
<polygon points="505.34,79.83 509.46,81.01 513.89,78.63 509.77,77.43" fill="rgb(161,182,139)" stroke="rgb(161,182,139)" stroke-width="0.35" stroke-opacity="0.6"/>
<polygon points="496.80,81.04 500.91,82.23 505.34,79.83 501.23,78.60" fill="rgb(107,167,182)" stroke="rgb(107,167,182)" stroke-width="0.35" stroke-opacity="0.6"/>
<polygon points="513.89,78.63 518.00,79.67 522.43,77.29 518.31,76.26" fill="rgb(210,191,104)" stroke="rgb(210,191,104)" stroke-width="0.35" stroke-opacity="0.6"/>
<polygon points="522.43,77.29 526.54,78.30 530.97,75.92 526.86,74.91" fill="rgb(235,181,92)" stroke="rgb(235,181,92)" stroke-width="0.35" stroke-opacity="0.6"/>
<polygon points="556.60,71.20 560.71,71.86 565.14,69.37 561.03,68.74" fill="rgb(239,95,106)" stroke="rgb(239,95,106)" stroke-width="0.35" stroke-opacity="0.6"/>
<polygon points="535.09,76.93 539.20,77.86 543.63,75.46 539.51,74.54" fill="rgb(238,143,104)" stroke="rgb(238,143,104)" stroke-width="0.35" stroke-opacity="0.6"/>
<polygon points="543.63,75.46 547.74,76.10 552.17,73.65 548.06,73.05" fill="rgb(240,121,107)" stroke="rgb(240,121,107)" stroke-width="0.35" stroke-opacity="0.6"/>
<polygon points="475.29,86.19 479.40,87.28 483.83,84.80 479.71,83.68" fill="rgb(43,113,227)" stroke="rgb(43,113,227)" stroke-width="0.35" stroke-opacity="0.6"/>
<polygon points="466.74,87.65 470.86,88.70 475.29,86.19 471.17,85.08" fill="rgb(36,96,227)" stroke="rgb(36,96,227)" stroke-width="0.35" stroke-opacity="0.6"/>
<polygon points="483.83,84.80 487.94,85.92 492.37,83.48 488.26,82.33" fill="rgb(51,129,227)" stroke="rgb(51,129,227)" stroke-width="0.35" stroke-opacity="0.6"/>
<polygon points="492.37,83.48 496.49,84.64 500.91,82.23 496.80,81.04" fill="rgb(60,144,227)" stroke="rgb(60,144,227)" stroke-width="0.35" stroke-opacity="0.6"/>
<polygon points="500.91,82.23 505.03,83.39 509.46,81.01 505.34,79.83" fill="rgb(114,160,182)" stroke="rgb(114,160,182)" stroke-width="0.35" stroke-opacity="0.6"/>
<polygon points="518.00,79.67 522.11,80.69 526.54,78.30 522.43,77.29" fill="rgb(213,177,111)" stroke="rgb(213,177,111)" stroke-width="0.35" stroke-opacity="0.6"/>
<polygon points="526.54,78.30 530.66,79.32 535.09,76.93 530.97,75.92" fill="rgb(235,166,100)" stroke="rgb(235,166,100)" stroke-width="0.35" stroke-opacity="0.6"/>
<polygon points="552.17,73.65 556.29,74.34 560.71,71.86 556.60,71.20" fill="rgb(240,101,109)" stroke="rgb(240,101,109)" stroke-width="0.35" stroke-opacity="0.6"/>
<polygon points="509.46,81.01 513.57,82.05 518.00,79.67 513.89,78.63" fill="rgb(166,170,143)" stroke="rgb(166,170,143)" stroke-width="0.35" stroke-opacity="0.6"/>
<polygon points="539.20,77.86 543.31,78.55 547.74,76.10 543.63,75.46" fill="rgb(238,129,112)" stroke="rgb(238,129,112)" stroke-width="0.35" stroke-opacity="0.6"/>
<polygon points="470.86,88.70 474.97,89.75 479.40,87.28 475.29,86.19" fill="rgb(38,92,226)" stroke="rgb(38,92,226)" stroke-width="0.35" stroke-opacity="0.6"/>
<polygon points="479.40,87.28 483.51,88.36 487.94,85.92 483.83,84.80" fill="rgb(45,108,226)" stroke="rgb(45,108,226)" stroke-width="0.35" stroke-opacity="0.6"/>
<polygon points="496.49,84.64 500.60,85.77 505.03,83.39 500.91,82.23" fill="rgb(67,137,224)" stroke="rgb(67,137,224)" stroke-width="0.35" stroke-opacity="0.6"/>
<polygon points="522.11,80.69 526.23,81.71 530.66,79.32 526.54,78.30" fill="rgb(215,163,118)" stroke="rgb(215,163,118)" stroke-width="0.35" stroke-opacity="0.6"/>
<polygon points="530.66,79.32 534.77,80.27 539.20,77.86 535.09,76.93" fill="rgb(235,152,108)" stroke="rgb(235,152,108)" stroke-width="0.35" stroke-opacity="0.6"/>
<polygon points="547.74,76.10 551.86,76.83 556.29,74.34 552.17,73.65" fill="rgb(239,109,114)" stroke="rgb(239,109,114)" stroke-width="0.35" stroke-opacity="0.6"/>
<polygon points="487.94,85.92 492.06,87.04 496.49,84.64 492.37,83.48" fill="rgb(54,124,225)" stroke="rgb(54,124,225)" stroke-width="0.35" stroke-opacity="0.6"/>
<polygon points="513.57,82.05 517.69,83.07 522.11,80.69 518.00,79.67" fill="rgb(172,158,146)" stroke="rgb(172,158,146)" stroke-width="0.35" stroke-opacity="0.6"/>
<polygon points="505.03,83.39 509.14,84.43 513.57,82.05 509.46,81.01" fill="rgb(123,149,182)" stroke="rgb(123,149,182)" stroke-width="0.35" stroke-opacity="0.6"/>
<polygon points="526.23,81.71 530.34,82.67 534.77,80.27 530.66,79.32" fill="rgb(217,149,124)" stroke="rgb(217,149,124)" stroke-width="0.35" stroke-opacity="0.6"/>
<polygon points="534.77,80.27 538.89,81.00 543.31,78.55 539.20,77.86" fill="rgb(236,138,116)" stroke="rgb(236,138,116)" stroke-width="0.35" stroke-opacity="0.6"/>
<polygon points="543.31,78.55 547.43,79.31 551.86,76.83 547.74,76.10" fill="rgb(237,116,119)" stroke="rgb(237,116,119)" stroke-width="0.35" stroke-opacity="0.6"/>
<polygon points="474.97,89.75 479.09,90.80 483.51,88.36 479.40,87.28" fill="rgb(40,88,224)" stroke="rgb(40,88,224)" stroke-width="0.35" stroke-opacity="0.6"/>
<polygon points="483.51,88.36 487.63,89.45 492.06,87.04 487.94,85.92" fill="rgb(48,104,224)" stroke="rgb(48,104,224)" stroke-width="0.35" stroke-opacity="0.6"/>
<polygon points="492.06,87.04 496.17,88.14 500.60,85.77 496.49,84.64" fill="rgb(60,118,223)" stroke="rgb(60,118,223)" stroke-width="0.35" stroke-opacity="0.6"/>
<polygon points="517.69,83.07 521.80,84.10 526.23,81.71 522.11,80.69" fill="rgb(177,146,150)" stroke="rgb(177,146,150)" stroke-width="0.35" stroke-opacity="0.6"/>
<polygon points="500.60,85.77 504.71,86.81 509.14,84.43 505.03,83.39" fill="rgb(79,129,220)" stroke="rgb(79,129,220)" stroke-width="0.35" stroke-opacity="0.6"/>
<polygon points="509.14,84.43 513.26,85.46 517.69,83.07 513.57,82.05" fill="rgb(131,139,182)" stroke="rgb(131,139,182)" stroke-width="0.35" stroke-opacity="0.6"/>
<polygon points="530.34,82.67 534.46,83.45 538.89,81.00 534.77,80.27" fill="rgb(219,135,131)" stroke="rgb(219,135,131)" stroke-width="0.35" stroke-opacity="0.6"/>
<polygon points="487.63,89.45 491.74,90.52 496.17,88.14 492.06,87.04" fill="rgb(54,99,222)" stroke="rgb(54,99,222)" stroke-width="0.35" stroke-opacity="0.6"/>
<polygon points="521.80,84.10 525.91,85.08 530.34,82.67 526.23,81.71" fill="rgb(182,134,153)" stroke="rgb(182,134,153)" stroke-width="0.35" stroke-opacity="0.6"/>
<polygon points="479.09,90.80 483.20,91.85 487.63,89.45 483.51,88.36" fill="rgb(42,84,223)" stroke="rgb(42,84,223)" stroke-width="0.35" stroke-opacity="0.6"/>
<polygon points="504.71,86.81 508.83,87.84 513.26,85.46 509.14,84.43" fill="rgb(90,120,217)" stroke="rgb(90,120,217)" stroke-width="0.35" stroke-opacity="0.6"/>
<polygon points="513.26,85.46 517.37,86.49 521.80,84.10 517.69,83.07" fill="rgb(139,129,182)" stroke="rgb(139,129,182)" stroke-width="0.35" stroke-opacity="0.6"/>
<polygon points="538.89,81.00 543.00,81.80 547.43,79.31 543.31,78.55" fill="rgb(236,123,125)" stroke="rgb(236,123,125)" stroke-width="0.35" stroke-opacity="0.6"/>
<polygon points="496.17,88.14 500.29,89.19 504.71,86.81 500.60,85.77" fill="rgb(71,111,220)" stroke="rgb(71,111,220)" stroke-width="0.35" stroke-opacity="0.6"/>
<polygon points="525.91,85.08 530.03,85.90 534.46,83.45 530.34,82.67" fill="rgb(187,121,156)" stroke="rgb(187,121,156)" stroke-width="0.35" stroke-opacity="0.6"/>
<polygon points="483.20,91.85 487.31,92.90 491.74,90.52 487.63,89.45" fill="rgb(47,80,221)" stroke="rgb(47,80,221)" stroke-width="0.35" stroke-opacity="0.6"/>
<polygon points="500.29,89.19 504.40,90.23 508.83,87.84 504.71,86.81" fill="rgb(81,105,217)" stroke="rgb(81,105,217)" stroke-width="0.35" stroke-opacity="0.6"/>
<polygon points="508.83,87.84 512.94,88.88 517.37,86.49 513.26,85.46" fill="rgb(102,112,214)" stroke="rgb(102,112,214)" stroke-width="0.35" stroke-opacity="0.6"/>
<polygon points="517.37,86.49 521.49,87.48 525.91,85.08 521.80,84.10" fill="rgb(148,118,182)" stroke="rgb(148,118,182)" stroke-width="0.35" stroke-opacity="0.6"/>
<polygon points="534.46,83.45 538.57,84.29 543.00,81.80 538.89,81.00" fill="rgb(221,121,138)" stroke="rgb(221,121,138)" stroke-width="0.35" stroke-opacity="0.6"/>
<polygon points="491.74,90.52 495.86,91.57 500.29,89.19 496.17,88.14" fill="rgb(63,94,220)" stroke="rgb(63,94,220)" stroke-width="0.35" stroke-opacity="0.6"/>
<polygon points="504.40,90.23 508.51,91.27 512.94,88.88 508.83,87.84" fill="rgb(91,98,214)" stroke="rgb(91,98,214)" stroke-width="0.35" stroke-opacity="0.6"/>
<polygon points="512.94,88.88 517.06,89.89 521.49,87.48 517.37,86.49" fill="rgb(113,103,210)" stroke="rgb(113,103,210)" stroke-width="0.35" stroke-opacity="0.6"/>
<polygon points="521.49,87.48 525.60,88.35 530.03,85.90 525.91,85.08" fill="rgb(156,108,182)" stroke="rgb(156,108,182)" stroke-width="0.35" stroke-opacity="0.6"/>
<polygon points="530.03,85.90 534.14,86.77 538.57,84.29 534.46,83.45" fill="rgb(193,109,160)" stroke="rgb(193,109,160)" stroke-width="0.35" stroke-opacity="0.6"/>
<polygon points="487.31,92.90 491.43,93.95 495.86,91.57 491.74,90.52" fill="rgb(55,77,220)" stroke="rgb(55,77,220)" stroke-width="0.35" stroke-opacity="0.6"/>
<polygon points="495.86,91.57 499.97,92.61 504.40,90.23 500.29,89.19" fill="rgb(72,89,218)" stroke="rgb(72,89,218)" stroke-width="0.35" stroke-opacity="0.6"/>
<polygon points="508.51,91.27 512.63,92.29 517.06,89.89 512.94,88.88" fill="rgb(101,91,212)" stroke="rgb(101,91,212)" stroke-width="0.35" stroke-opacity="0.6"/>
<polygon points="517.06,89.89 521.17,90.80 525.60,88.35 521.49,87.48" fill="rgb(124,94,207)" stroke="rgb(124,94,207)" stroke-width="0.35" stroke-opacity="0.6"/>
<polygon points="491.43,93.95 495.54,95.00 499.97,92.61 495.86,91.57" fill="rgb(63,74,218)" stroke="rgb(63,74,218)" stroke-width="0.35" stroke-opacity="0.6"/>
<polygon points="499.97,92.61 504.09,93.66 508.51,91.27 504.40,90.23" fill="rgb(81,85,215)" stroke="rgb(81,85,215)" stroke-width="0.35" stroke-opacity="0.6"/>
<polygon points="525.60,88.35 529.71,89.26 534.14,86.77 530.03,85.90" fill="rgb(164,98,182)" stroke="rgb(164,98,182)" stroke-width="0.35" stroke-opacity="0.6"/>
<polygon points="512.63,92.29 516.74,93.25 521.17,90.80 517.06,89.89" fill="rgb(112,85,209)" stroke="rgb(112,85,209)" stroke-width="0.35" stroke-opacity="0.6"/>
<polygon points="495.54,95.00 499.66,96.05 504.09,93.66 499.97,92.61" fill="rgb(71,71,216)" stroke="rgb(71,71,216)" stroke-width="0.35" stroke-opacity="0.6"/>
<polygon points="504.09,93.66 508.20,94.70 512.63,92.29 508.51,91.27" fill="rgb(90,80,213)" stroke="rgb(90,80,213)" stroke-width="0.35" stroke-opacity="0.6"/>
<polygon points="521.17,90.80 525.29,91.74 529.71,89.26 525.60,88.35" fill="rgb(136,86,203)" stroke="rgb(136,86,203)" stroke-width="0.35" stroke-opacity="0.6"/>
<polygon points="499.66,96.05 503.77,97.10 508.20,94.70 504.09,93.66" fill="rgb(79,68,214)" stroke="rgb(79,68,214)" stroke-width="0.35" stroke-opacity="0.6"/>
<polygon points="508.20,94.70 512.31,95.70 516.74,93.25 512.63,92.29" fill="rgb(99,75,211)" stroke="rgb(99,75,211)" stroke-width="0.35" stroke-opacity="0.6"/>
<polygon points="516.74,93.25 520.86,94.23 525.29,91.74 521.17,90.80" fill="rgb(122,78,206)" stroke="rgb(122,78,206)" stroke-width="0.35" stroke-opacity="0.6"/>
<polygon points="503.77,97.10 507.89,98.15 512.31,95.70 508.20,94.70" fill="rgb(87,65,213)" stroke="rgb(87,65,213)" stroke-width="0.35" stroke-opacity="0.6"/>
<polygon points="512.31,95.70 516.43,96.71 520.86,94.23 516.74,93.25" fill="rgb(108,70,208)" stroke="rgb(108,70,208)" stroke-width="0.35" stroke-opacity="0.6"/>
<polygon points="507.89,98.15 512.00,99.20 516.43,96.71 512.31,95.70" fill="rgb(95,62,211)" stroke="rgb(95,62,211)" stroke-width="0.35" stroke-opacity="0.6"/>
<polyline points="459.20,85.72 460.75,84.78 462.30,83.84 463.85,82.90 465.40,81.96 466.95,81.02 468.50,80.08 470.05,79.14 471.60,78.20 473.15,77.26 474.70,76.32 476.25,75.38 477.80,74.44 479.35,73.50 480.90,72.56 482.45,71.62 484.00,70.68 485.55,69.74 487.10,68.80 488.65,67.86 490.20,66.92 491.75,65.98 493.30,65.04 494.85,64.09 496.40,63.15 497.95,62.21 499.50,61.27 501.05,60.33 502.60,59.39 504.15,58.45 505.70,57.51 507.25,56.57 508.80,55.63 510.35,54.69 511.90,53.75 513.45,52.81 515.00,51.87 516.55,50.93 518.10,49.99 519.65,49.05 521.20,48.11" fill="none" stroke="#000000" stroke-opacity="0.10" stroke-width="0.45"/>
<polyline points="459.57,81.24 461.01,81.64 462.45,82.05 463.89,82.46 465.33,82.85 466.77,83.24 468.21,83.63 469.65,84.02 471.09,84.42 472.53,84.82 473.97,85.21 475.41,85.61 476.85,86.00 478.29,86.38 479.73,86.75 481.17,87.13 482.61,87.52 484.05,87.90 485.49,88.28 486.93,88.66 488.37,89.05 489.81,89.43 491.25,89.80 492.69,90.18 494.13,90.55 495.57,90.91 497.01,91.28 498.45,91.64 499.89,92.01 501.33,92.37 502.77,92.74 504.21,93.11 505.65,93.47 507.09,93.84 508.53,94.19 509.97,94.55 511.41,94.89 512.85,95.24 514.29,95.59 515.73,95.94 517.17,96.30" fill="none" stroke="#000000" stroke-opacity="0.10" stroke-width="0.45"/>
<polyline points="464.00,86.95 465.55,86.03 467.10,85.11 468.65,84.20 470.20,83.28 471.75,82.36 473.30,81.44 474.85,80.52 476.40,79.61 477.95,78.69 479.50,77.77 481.05,76.85 482.60,75.93 484.15,75.02 485.70,74.10 487.25,73.18 488.80,72.26 490.35,71.34 491.90,70.42 493.45,69.51 495.00,68.59 496.55,67.67 498.10,66.75 499.65,65.83 501.20,64.92 502.75,64.00 504.30,63.08 505.85,62.16 507.40,61.24 508.95,60.33 510.50,59.41 512.05,58.49 513.60,57.57 515.15,56.65 516.70,55.74 518.25,54.82 519.80,53.90 521.35,52.98 522.90,52.06 524.45,51.15 526.00,50.23" fill="none" stroke="#000000" stroke-opacity="0.10" stroke-width="0.45"/>
<polyline points="464.73,77.98 466.17,78.41 467.61,78.86 469.05,79.31 470.49,79.73 471.93,80.14 473.37,80.55 474.81,80.97 476.25,81.40 477.69,81.83 479.13,82.25 480.57,82.67 482.01,83.08 483.45,83.48 484.89,83.86 486.33,84.26 487.77,84.65 489.21,85.05 490.65,85.45 492.09,85.84 493.53,86.24 494.97,86.63 496.41,87.02 497.85,87.40 499.29,87.77 500.73,88.14 502.17,88.50 503.61,88.86 505.05,89.23 506.49,89.59 507.93,89.95 509.37,90.32 510.81,90.68 512.25,91.05 513.69,91.39 515.13,91.73 516.57,92.06 518.01,92.39 519.45,92.72 520.89,93.05 522.33,93.40" fill="none" stroke="#000000" stroke-opacity="0.10" stroke-width="0.45"/>
<polyline points="468.80,88.18 470.35,87.29 471.90,86.40 473.45,85.51 475.00,84.62 476.55,83.73 478.10,82.84 479.65,81.95 481.20,81.07 482.75,80.18 484.30,79.29 485.85,78.40 487.40,77.51 488.95,76.62 490.50,75.73 492.05,74.85 493.60,73.96 495.15,73.07 496.70,72.18 498.25,71.29 499.80,70.40 501.35,69.51 502.90,68.63 504.45,67.74 506.00,66.85 507.55,65.96 509.10,65.07 510.65,64.18 512.20,63.29 513.75,62.41 515.30,61.52 516.85,60.63 518.40,59.74 519.95,58.85 521.50,57.96 523.05,57.07 524.60,56.19 526.15,55.30 527.70,54.41 529.25,53.52 530.80,52.63" fill="none" stroke="#000000" stroke-opacity="0.10" stroke-width="0.45"/>
<polyline points="469.90,74.73 471.34,75.18 472.78,75.67 474.22,76.16 475.66,76.62 477.10,77.04 478.54,77.47 479.98,77.92 481.42,78.38 482.86,78.83 484.30,79.29 485.74,79.74 487.18,80.17 488.62,80.58 490.06,80.97 491.50,81.38 492.94,81.79 494.38,82.20 495.82,82.61 497.26,83.03 498.70,83.44 500.14,83.84 501.58,84.24 503.02,84.63 504.46,85.00 505.90,85.36 507.34,85.72 508.78,86.08 510.22,86.45 511.66,86.81 513.10,87.17 514.54,87.53 515.98,87.89 517.42,88.26 518.86,88.59 520.30,88.91 521.74,89.22 523.18,89.53 524.62,89.84 526.06,90.16 527.50,90.50" fill="none" stroke="#000000" stroke-opacity="0.10" stroke-width="0.45"/>
<polyline points="473.60,89.40 475.15,88.53 476.70,87.66 478.25,86.79 479.80,85.92 481.35,85.06 482.90,84.19 484.45,83.32 486.00,82.45 487.55,81.58 489.10,80.71 490.65,79.84 492.20,78.97 493.75,78.10 495.30,77.23 496.85,76.37 498.40,75.50 499.95,74.63 501.50,73.76 503.05,72.89 504.60,72.02 506.15,71.15 507.70,70.28 509.25,69.41 510.80,68.54 512.35,67.68 513.90,66.81 515.45,65.94 517.00,65.07 518.55,64.20 520.10,63.33 521.65,62.46 523.20,61.59 524.75,60.72 526.30,59.85 527.85,58.99 529.40,58.12 530.95,57.25 532.50,56.38 534.05,55.51 535.60,54.64" fill="none" stroke="#000000" stroke-opacity="0.10" stroke-width="0.45"/>
<polyline points="475.07,71.47 476.51,71.95 477.95,72.48 479.39,73.02 480.83,73.50 482.27,73.93 483.71,74.39 485.15,74.87 486.59,75.35 488.03,75.84 489.47,76.33 490.91,76.80 492.35,77.25 493.79,77.68 495.23,78.08 496.67,78.50 498.11,78.92 499.55,79.35 500.99,79.78 502.43,80.21 503.87,80.63 505.31,81.05 506.75,81.46 508.19,81.86 509.63,82.22 511.07,82.59 512.51,82.95 513.95,83.30 515.39,83.66 516.83,84.02 518.27,84.38 519.71,84.74 521.15,85.11 522.59,85.47 524.03,85.79 525.47,86.09 526.91,86.38 528.35,86.67 529.79,86.97 531.23,87.27 532.67,87.60" fill="none" stroke="#000000" stroke-opacity="0.10" stroke-width="0.45"/>
<polyline points="478.40,90.62 479.95,89.77 481.50,88.91 483.05,88.06 484.60,87.20 486.15,86.34 487.70,85.49 489.25,84.63 490.80,83.77 492.35,82.92 493.90,82.06 495.45,81.20 497.00,80.35 498.55,79.49 500.10,78.63 501.65,77.78 503.20,76.92 504.75,76.07 506.30,75.21 507.85,74.35 509.40,73.50 510.95,72.64 512.50,71.78 514.05,70.93 515.60,70.07 517.15,69.21 518.70,68.36 520.25,67.50 521.80,66.64 523.35,65.79 524.90,64.93 526.45,64.08 528.00,63.22 529.55,62.36 531.10,61.51 532.65,60.65 534.20,59.79 535.75,58.94 537.30,58.08 538.85,57.22 540.40,56.37" fill="none" stroke="#000000" stroke-opacity="0.10" stroke-width="0.45"/>
<polyline points="480.23,68.21 481.67,68.72 483.11,69.30 484.55,69.87 485.99,70.38 487.43,70.83 488.87,71.32 490.31,71.82 491.75,72.33 493.19,72.85 494.63,73.37 496.07,73.86 497.51,74.34 498.95,74.78 500.39,75.19 501.83,75.62 503.27,76.06 504.71,76.50 506.15,76.94 507.59,77.39 509.03,77.83 510.47,78.26 511.91,78.68 513.35,79.08 514.79,79.45 516.23,79.81 517.67,80.17 519.11,80.53 520.55,80.88 521.99,81.24 523.43,81.60 524.87,81.96 526.31,82.32 527.75,82.68 529.19,82.99 530.63,83.28 532.07,83.55 533.51,83.82 534.95,84.09 536.39,84.38 537.83,84.70" fill="none" stroke="#000000" stroke-opacity="0.10" stroke-width="0.45"/>
<polyline points="483.20,91.85 484.75,91.01 486.30,90.17 487.85,89.33 489.40,88.48 490.95,87.64 492.50,86.80 494.05,85.96 495.60,85.12 497.15,84.28 498.70,83.44 500.25,82.59 501.80,81.75 503.35,80.91 504.90,80.07 506.45,79.23 508.00,78.39 509.55,77.55 511.10,76.70 512.65,75.86 514.20,75.02 515.75,74.18 517.30,73.34 518.85,72.50 520.40,71.66 521.95,70.81 523.50,69.97 525.05,69.13 526.60,68.29 528.15,67.45 529.70,66.61 531.25,65.77 532.80,64.92 534.35,64.08 535.90,63.24 537.45,62.40 539.00,61.56 540.55,60.72 542.10,59.88 543.65,59.04 545.20,58.19" fill="none" stroke="#000000" stroke-opacity="0.10" stroke-width="0.45"/>
<polyline points="485.40,64.95 486.84,65.49 488.28,66.11 489.72,66.72 491.16,67.27 492.60,67.73 494.04,68.24 495.48,68.77 496.92,69.31 498.36,69.86 499.80,70.40 501.24,70.93 502.68,71.43 504.12,71.88 505.56,72.30 507.00,72.74 508.44,73.19 509.88,73.65 511.32,74.11 512.76,74.57 514.20,75.02 515.64,75.47 517.08,75.90 518.52,76.31 519.96,76.67 521.40,77.03 522.84,77.39 524.28,77.75 525.72,78.10 527.16,78.45 528.60,78.81 530.04,79.17 531.48,79.53 532.92,79.89 534.36,80.19 535.80,80.46 537.24,80.71 538.68,80.96 540.12,81.22 541.56,81.49 543.00,81.80" fill="none" stroke="#000000" stroke-opacity="0.10" stroke-width="0.45"/>
<polyline points="488.00,93.07 489.55,92.24 491.10,91.41 492.65,90.58 494.20,89.75 495.75,88.91 497.30,88.08 498.85,87.25 500.40,86.42 501.95,85.59 503.50,84.75 505.05,83.92 506.60,83.09 508.15,82.26 509.70,81.42 511.25,80.59 512.80,79.76 514.35,78.93 515.90,78.10 517.45,77.26 519.00,76.43 520.55,75.60 522.10,74.77 523.65,73.93 525.20,73.10 526.75,72.27 528.30,71.44 529.85,70.61 531.40,69.77 532.95,68.94 534.50,68.11 536.05,67.28 537.60,66.45 539.15,65.61 540.70,64.78 542.25,63.95 543.80,63.12 545.35,62.28 546.90,61.45 548.45,60.62 550.00,59.79" fill="none" stroke="#000000" stroke-opacity="0.10" stroke-width="0.45"/>
<polyline points="490.57,61.69 492.01,62.26 493.45,62.92 494.89,63.58 496.33,64.15 497.77,64.63 499.21,65.16 500.65,65.72 502.09,66.29 503.53,66.87 504.97,67.44 506.41,67.99 507.85,68.51 509.29,68.98 510.73,69.41 512.17,69.86 513.61,70.33 515.05,70.80 516.49,71.27 517.93,71.75 519.37,72.22 520.81,72.68 522.25,73.12 523.69,73.54 525.13,73.90 526.57,74.26 528.01,74.61 529.45,74.97 530.89,75.32 532.33,75.67 533.77,76.02 535.21,76.38 536.65,76.74 538.09,77.10 539.53,77.39 540.97,77.64 542.41,77.88 543.85,78.10 545.29,78.34 546.73,78.60 548.17,78.90" fill="none" stroke="#000000" stroke-opacity="0.10" stroke-width="0.45"/>
<polyline points="492.80,94.30 494.35,93.47 495.90,92.63 497.45,91.80 499.00,90.97 500.55,90.13 502.10,89.30 503.65,88.46 505.20,87.63 506.75,86.80 508.30,85.96 509.85,85.13 511.40,84.30 512.95,83.46 514.50,82.63 516.05,81.80 517.60,80.96 519.15,80.13 520.70,79.30 522.25,78.46 523.80,77.63 525.35,76.79 526.90,75.96 528.45,75.13 530.00,74.29 531.55,73.46 533.10,72.63 534.65,71.79 536.20,70.96 537.75,70.13 539.30,69.29 540.85,68.46 542.40,67.62 543.95,66.79 545.50,65.96 547.05,65.12 548.60,64.29 550.15,63.46 551.70,62.62 553.25,61.79 554.80,60.96" fill="none" stroke="#000000" stroke-opacity="0.10" stroke-width="0.45"/>
<polyline points="495.73,58.43 497.17,59.03 498.61,59.73 500.05,60.43 501.49,61.03 502.93,61.53 504.37,62.08 505.81,62.67 507.25,63.27 508.69,63.88 510.13,64.48 511.57,65.06 513.01,65.60 514.45,66.08 515.89,66.52 517.33,66.99 518.77,67.46 520.21,67.95 521.65,68.44 523.09,68.93 524.53,69.41 525.97,69.88 527.41,70.34 528.85,70.76 530.29,71.13 531.73,71.48 533.17,71.84 534.61,72.19 536.05,72.54 537.49,72.89 538.93,73.24 540.37,73.59 541.81,73.95 543.25,74.31 544.69,74.58 546.13,74.82 547.57,75.04 549.01,75.25 550.45,75.47 551.89,75.71 553.33,76.00" fill="none" stroke="#000000" stroke-opacity="0.10" stroke-width="0.45"/>
<polyline points="497.60,95.52 499.15,94.69 500.70,93.85 502.25,93.02 503.80,92.18 505.35,91.35 506.90,90.51 508.45,89.67 510.00,88.84 511.55,88.00 513.10,87.17 514.65,86.33 516.20,85.50 517.75,84.66 519.30,83.82 520.85,82.99 522.40,82.15 523.95,81.32 525.50,80.48 527.05,79.65 528.60,78.81 530.15,77.97 531.70,77.14 533.25,76.30 534.80,75.47 536.35,74.63 537.90,73.80 539.45,72.96 541.00,72.12 542.55,71.29 544.10,70.45 545.65,69.62 547.20,68.78 548.75,67.94 550.30,67.11 551.85,66.27 553.40,65.44 554.95,64.60 556.50,63.77 558.05,62.93 559.60,62.09" fill="none" stroke="#000000" stroke-opacity="0.10" stroke-width="0.45"/>
<polyline points="500.90,55.17 502.34,55.80 503.78,56.54 505.22,57.28 506.66,57.91 508.10,58.43 509.54,59.00 510.98,59.61 512.42,60.25 513.86,60.89 515.30,61.52 516.74,62.12 518.18,62.68 519.62,63.18 521.06,63.63 522.50,64.11 523.94,64.60 525.38,65.10 526.82,65.61 528.26,66.11 529.70,66.61 531.14,67.09 532.58,67.56 534.02,67.99 535.46,68.35 536.90,68.71 538.34,69.06 539.78,69.41 541.22,69.76 542.66,70.10 544.10,70.45 545.54,70.81 546.98,71.16 548.42,71.52 549.86,71.78 551.30,72.01 552.74,72.20 554.18,72.39 555.62,72.59 557.06,72.82 558.50,73.10" fill="none" stroke="#000000" stroke-opacity="0.10" stroke-width="0.45"/>
<polyline points="502.40,96.75 503.95,95.91 505.50,95.07 507.05,94.24 508.60,93.40 510.15,92.56 511.70,91.72 513.25,90.88 514.80,90.05 516.35,89.21 517.90,88.37 519.45,87.53 521.00,86.69 522.55,85.86 524.10,85.02 525.65,84.18 527.20,83.34 528.75,82.51 530.30,81.67 531.85,80.83 533.40,79.99 534.95,79.15 536.50,78.32 538.05,77.48 539.60,76.64 541.15,75.80 542.70,74.96 544.25,74.13 545.80,73.29 547.35,72.45 548.90,71.61 550.45,70.77 552.00,69.94 553.55,69.10 555.10,68.26 556.65,67.42 558.20,66.58 559.75,65.75 561.30,64.91 562.85,64.07 564.40,63.23" fill="none" stroke="#000000" stroke-opacity="0.10" stroke-width="0.45"/>
<polyline points="506.07,51.92 507.51,52.57 508.95,53.36 510.39,54.14 511.83,54.79 513.27,55.33 514.71,55.93 516.15,56.56 517.59,57.23 519.03,57.90 520.47,58.56 521.91,59.19 523.35,59.77 524.79,60.28 526.23,60.74 527.67,61.23 529.11,61.73 530.55,62.25 531.99,62.77 533.43,63.29 534.87,63.80 536.31,64.30 537.75,64.78 539.19,65.21 540.63,65.58 542.07,65.93 543.51,66.28 544.95,66.63 546.39,66.97 547.83,67.32 549.27,67.67 550.71,68.02 552.15,68.38 553.59,68.73 555.03,68.98 556.47,69.19 557.91,69.37 559.35,69.54 560.79,69.72 562.23,69.93 563.67,70.20" fill="none" stroke="#000000" stroke-opacity="0.10" stroke-width="0.45"/>
<polyline points="507.20,97.97 508.75,97.12 510.30,96.27 511.85,95.41 513.40,94.56 514.95,93.70 516.50,92.85 518.05,91.99 519.60,91.14 521.15,90.28 522.70,89.43 524.25,88.57 525.80,87.72 527.35,86.86 528.90,86.01 530.45,85.15 532.00,84.30 533.55,83.44 535.10,82.59 536.65,81.73 538.20,80.88 539.75,80.02 541.30,79.17 542.85,78.31 544.40,77.46 545.95,76.60 547.50,75.75 549.05,74.89 550.60,74.04 552.15,73.18 553.70,72.33 555.25,71.47 556.80,70.62 558.35,69.76 559.90,68.91 561.45,68.05 563.00,67.20 564.55,66.35 566.10,65.49 567.65,64.64 569.20,63.78" fill="none" stroke="#000000" stroke-opacity="0.10" stroke-width="0.45"/>
<polyline points="511.23,48.66 512.67,49.34 514.11,50.17 515.55,50.99 516.99,51.68 518.43,52.23 519.87,52.85 521.31,53.51 522.75,54.21 524.19,54.90 525.63,55.59 527.07,56.25 528.51,56.86 529.95,57.38 531.39,57.85 532.83,58.35 534.27,58.87 535.71,59.40 537.15,59.94 538.59,60.47 540.03,61.00 541.47,61.51 542.91,62.00 544.35,62.44 545.79,62.80 547.23,63.16 548.67,63.50 550.11,63.85 551.55,64.19 552.99,64.53 554.43,64.88 555.87,65.23 557.31,65.59 558.75,65.94 560.19,66.18 561.63,66.37 563.07,66.53 564.51,66.68 565.95,66.84 567.39,67.04 568.83,67.30" fill="none" stroke="#000000" stroke-opacity="0.10" stroke-width="0.45"/>
<polygon points="454.40,88.00 512.00,103.60 512.00,99.20 454.40,84.50" fill="#2f5fd0"/>
<polygon points="512.00,103.60 574.00,90.20 574.00,64.40 570.90,66.14 567.80,67.88 564.70,69.62 561.60,71.36 558.50,73.10 555.40,74.84 552.30,76.58 549.20,78.32 546.10,80.06 543.00,81.80 539.90,83.54 536.80,85.28 533.70,87.02 530.60,88.76 527.50,90.50 524.40,92.24 521.30,93.98 518.20,95.72 515.10,97.46 512.00,99.20" fill="#5b4fcc"/>
<line x1="517.17" y1="102.48" x2="517.17" y2="96.30" stroke="#6a60d8" stroke-width="0.5"/>
<line x1="522.33" y1="101.37" x2="522.33" y2="93.40" stroke="#6a60d8" stroke-width="0.5"/>
<line x1="527.50" y1="100.25" x2="527.50" y2="90.50" stroke="#6a60d8" stroke-width="0.5"/>
<line x1="532.67" y1="99.13" x2="532.67" y2="87.60" stroke="#6a60d8" stroke-width="0.5"/>
<line x1="537.83" y1="98.02" x2="537.83" y2="84.70" stroke="#6a60d8" stroke-width="0.5"/>
<line x1="543.00" y1="96.90" x2="543.00" y2="81.80" stroke="#6a60d8" stroke-width="0.5"/>
<line x1="548.17" y1="95.78" x2="548.17" y2="78.90" stroke="#6a60d8" stroke-width="0.5"/>
<line x1="553.33" y1="94.67" x2="553.33" y2="76.00" stroke="#6a60d8" stroke-width="0.5"/>
<line x1="558.50" y1="93.55" x2="558.50" y2="73.10" stroke="#6a60d8" stroke-width="0.5"/>
<line x1="563.67" y1="92.43" x2="563.67" y2="70.20" stroke="#6a60d8" stroke-width="0.5"/>
<line x1="568.83" y1="91.32" x2="568.83" y2="67.30" stroke="#6a60d8" stroke-width="0.5"/>
<polyline points="443.7,94.5 512.8,113.6 582.5,95.6" fill="none" stroke="#2a2a2a" stroke-width="0.9"/>
<path d="M585.5,94.8 L580.6,93.9 L581.6,97.6 Z" fill="#2a2a2a"/>
<line x1="443.7" y1="94.8" x2="443.7" y2="47" stroke="#2a2a2a" stroke-width="0.9"/>
<path d="M443.7,43.5 L441.7,48 L445.7,48 Z" fill="#2a2a2a"/>
<text x="426.8" y="38.4" font-family="'Liberation Sans', Arial, sans-serif" font-size="6.5" font-weight="bold" font-style="normal" text-anchor="start" fill="#1a1a1a" >Batch Size</text>
<text x="475" y="113.5" font-family="'Liberation Sans', Arial, sans-serif" font-size="6.5" font-weight="bold" font-style="normal" text-anchor="middle" fill="#1a1a1a" transform="rotate(17.5 475 113.5)">Prefill Length</text>
<text x="555" y="115.5" font-family="'Liberation Sans', Arial, sans-serif" font-size="6.6" font-weight="bold" font-style="normal" text-anchor="middle" fill="#1a1a1a" transform="rotate(-13 555 115.5)">Decode Length</text>
<line x1="40.6" y1="264.4" x2="40.6" y2="170" stroke="#2a2a2a" stroke-width="1"/>
<path d="M37.6,172.6 L40.6,167.6 L43.6,172.6" fill="none" stroke="#2a2a2a" stroke-width="0.9"/>
<line x1="40.1" y1="264.4" x2="188" y2="264.4" stroke="#2a2a2a" stroke-width="1"/>
<path d="M185.6,261.4 L190.6,264.4 L185.6,267.4" fill="none" stroke="#2a2a2a" stroke-width="1"/>
<line x1="44" y1="262" x2="165" y2="173" stroke="#c8c8c8" stroke-width="0.6" stroke-dasharray="2,1.5"/>
<rect x="61.0" y="247.7" width="4.6" height="4.6" fill="#ec8f6c" opacity="0.95"/>
<rect x="74.9" y="239.1" width="4.6" height="4.6" fill="#ec8f6c" opacity="0.95"/>
<rect x="78.0" y="229.1" width="4.6" height="4.6" fill="#ec8f6c" opacity="0.95"/>
<rect x="92.0" y="229.79999999999998" width="4.6" height="4.6" fill="#ec8f6c" opacity="0.95"/>
<rect x="96.60000000000001" y="221.29999999999998" width="4.6" height="4.6" fill="#ec8f6c" opacity="0.95"/>
<rect x="105.9" y="216.7" width="4.6" height="4.6" fill="#ec8f6c" opacity="0.95"/>
<rect x="107.5" y="209.7" width="4.6" height="4.6" fill="#ec8f6c" opacity="0.95"/>
<rect x="105.5" y="216.2" width="4.6" height="4.6" fill="#ec8f6c" opacity="0.95"/>
<rect x="117.9" y="205.29999999999998" width="4.6" height="4.6" fill="#ec8f6c" opacity="0.95"/>
<rect x="122.5" y="204.6" width="4.6" height="4.6" fill="#ec8f6c" opacity="0.95"/>
<rect x="129.5" y="196.0" width="4.6" height="4.6" fill="#ec8f6c" opacity="0.95"/>
<rect x="138.79999999999998" y="186.7" width="4.6" height="4.6" fill="#ec8f6c" opacity="0.95"/>
<rect x="84.7" y="226.7" width="4.6" height="4.6" fill="#ec8f6c" opacity="0.95"/>
<circle cx="47" cy="259.3" r="2.35" fill="#6994bd" opacity="0.95"/>
<circle cx="50.9" cy="254.6" r="2.35" fill="#6994bd" opacity="0.95"/>
<circle cx="57.8" cy="254.3" r="2.35" fill="#6994bd" opacity="0.95"/>
<circle cx="61.7" cy="245.6" r="2.35" fill="#6994bd" opacity="0.95"/>
<circle cx="71" cy="245" r="2.35" fill="#6994bd" opacity="0.95"/>
<circle cx="71.8" cy="240.7" r="2.35" fill="#6994bd" opacity="0.95"/>
<circle cx="81" cy="235.2" r="2.35" fill="#6994bd" opacity="0.95"/>
<circle cx="85" cy="226.7" r="2.35" fill="#6994bd" opacity="0.95"/>
<circle cx="89.6" cy="228.3" r="2.35" fill="#6994bd" opacity="0.95"/>
<circle cx="93.5" cy="222" r="2.35" fill="#6994bd" opacity="0.95"/>
<circle cx="103.6" cy="214.3" r="2.35" fill="#6994bd" opacity="0.95"/>
<circle cx="114.4" cy="208.1" r="2.35" fill="#6994bd" opacity="0.95"/>
<circle cx="114.7" cy="214.3" r="2.35" fill="#6994bd" opacity="0.95"/>
<circle cx="119.4" cy="212.3" r="2.35" fill="#6994bd" opacity="0.95"/>
<circle cx="124.8" cy="203" r="2.35" fill="#6994bd" opacity="0.95"/>
<circle cx="129.5" cy="203" r="2.35" fill="#6994bd" opacity="0.95"/>
<circle cx="131.8" cy="193.7" r="2.35" fill="#6994bd" opacity="0.95"/>
<circle cx="138" cy="193.7" r="2.35" fill="#6994bd" opacity="0.95"/>
<circle cx="145.7" cy="193.7" r="2.35" fill="#6994bd" opacity="0.95"/>
<circle cx="143.4" cy="184.4" r="2.35" fill="#6994bd" opacity="0.95"/>
<circle cx="152.7" cy="184.4" r="2.35" fill="#6994bd" opacity="0.95"/>
<circle cx="154.3" cy="179.3" r="2.35" fill="#6994bd" opacity="0.95"/>
<circle cx="160.2" cy="179.7" r="2.35" fill="#6994bd" opacity="0.95"/>
<circle cx="78" cy="238" r="2.35" fill="#6994bd" opacity="0.95"/>
<circle cx="96" cy="225" r="2.35" fill="#6994bd" opacity="0.95"/>
<circle cx="100" cy="218" r="2.35" fill="#6994bd" opacity="0.95"/>
<circle cx="50.8" cy="175.3" r="2.3" fill="#6994bd"/>
<text x="57" y="177.2" font-family="'Liberation Serif', 'Times New Roman', serif" font-size="5.1" font-weight="bold" font-style="normal" text-anchor="start" fill="#222"  stroke="#222" stroke-width="0.14">Train</text>
<rect x="48.5" y="181.5" width="4.6" height="4.6" fill="#ec8f6c"/>
<text x="57" y="185.6" font-family="'Liberation Serif', 'Times New Roman', serif" font-size="5.1" font-weight="bold" font-style="normal" text-anchor="start" fill="#222"  stroke="#222" stroke-width="0.14">Eval</text>
<text x="34.5" y="214" font-family="'Liberation Serif', 'Times New Roman', serif" font-size="4.8" font-weight="bold" font-style="normal" text-anchor="middle" fill="#222" transform="rotate(-90 34.5 214)" stroke="#222" stroke-width="0.14">Predicted Loss</text>
<text x="107.7" y="270.4" font-family="'Liberation Serif', 'Times New Roman', serif" font-size="5.0" font-weight="bold" font-style="normal" text-anchor="middle" fill="#222"  stroke="#222" stroke-width="0.14">Actual Loss</text>
<text x="265.3" y="181.6" font-family="'Liberation Serif', 'Times New Roman', serif" font-size="7.4" font-weight="bold" font-style="normal" text-anchor="middle" fill="#1a1a1a"  stroke="#1a1a1a" stroke-width="0.22">Theoretical Model</text>
<text x="357.2" y="181.6" font-family="'Liberation Serif', 'Times New Roman', serif" font-size="7.4" font-weight="bold" font-style="normal" text-anchor="middle" fill="#1a1a1a"  stroke="#1a1a1a" stroke-width="0.22">Inference Engines</text>
<defs><linearGradient id="rg" x1="234.6" y1="0" x2="304.1" y2="0" gradientUnits="userSpaceOnUse"><stop offset="0" stop-color="#d6e7f2"/><stop offset="0.36" stop-color="#dbe9ee"/><stop offset="0.46" stop-color="#e6eed4"/><stop offset="1" stop-color="#e8eed2"/></linearGradient></defs>
<polygon points="234.6,228.7 263.5,196.7 304.1,196.7 304.1,228.7" fill="url(#rg)"/>
<polyline points="234.6,228.7 263.5,196.7 304.1,196.7" fill="none" stroke="#333" stroke-width="1.3"/>
<line x1="234.6" y1="228.7" x2="234.6" y2="195" stroke="#333" stroke-width="1.1"/>
<path d="M232.3,196 L234.6,191.6 L236.9,196 Z" fill="#333"/>
<line x1="234.6" y1="228.7" x2="307" y2="228.7" stroke="#333" stroke-width="1.1"/>
<path d="M305,226.4 L309.4,228.7 L305,231 Z" fill="#333"/>
<text x="253.4" y="220.6" font-family="'Liberation Serif', 'Times New Roman', serif" font-size="3.9" font-weight="bold" font-style="normal" text-anchor="middle" fill="#3a4050"  stroke="#3a4050" stroke-width="0.14">Memory</text>
<text x="253.4" y="224.9" font-family="'Liberation Serif', 'Times New Roman', serif" font-size="3.9" font-weight="bold" font-style="normal" text-anchor="middle" fill="#3a4050"  stroke="#3a4050" stroke-width="0.14">Bound</text>
<text x="284.6" y="220.6" font-family="'Liberation Serif', 'Times New Roman', serif" font-size="3.9" font-weight="bold" font-style="normal" text-anchor="middle" fill="#4a4a30"  stroke="#4a4a30" stroke-width="0.14">Compute</text>
<text x="284.6" y="224.9" font-family="'Liberation Serif', 'Times New Roman', serif" font-size="3.9" font-weight="bold" font-style="normal" text-anchor="middle" fill="#4a4a30"  stroke="#4a4a30" stroke-width="0.14">Bound</text>
<defs><linearGradient id="vg" x1="0" y1="0" x2="1" y2="0"><stop offset="0" stop-color="#f0c040"/><stop offset="1" stop-color="#3070c0"/></linearGradient><linearGradient id="sg" x1="0" y1="0" x2="1" y2="1"><stop offset="0" stop-color="#e86a2a"/><stop offset="1" stop-color="#b8401e"/></linearGradient></defs>
<path d="M321.4,195.6 L323.8,195.6 L325.6,199.8 L325.6,202.2 L324.4,202.2 Z" fill="#f2c14a"/>
<path d="M324.4,202.2 L326.2,202.2 L328.8,195.6 L326.6,195.6 Z" fill="#3a78c4"/>
<text x="329.2" y="201.8" font-family="'Liberation Sans', Arial, sans-serif" font-size="12.4" font-weight="normal" font-style="normal" text-anchor="start" fill="#484848" textLength="31" lengthAdjust="spacingAndGlyphs">LLM</text>
<text x="366.2" y="201.2" font-family="'Liberation Sans', Arial, sans-serif" font-size="8.6" font-weight="bold" font-style="normal" text-anchor="start" fill="#0d0d0d" transform="translate(366.2 201.2) scale(0.84 1) translate(-366.2 -201.2)" letter-spacing="-0.1" stroke="#0d0d0d" stroke-width="0.35">LLAMA</text>
<text x="389.6" y="201.6" font-family="'Liberation Serif', 'Times New Roman', serif" font-size="10.5" font-weight="normal" font-style="normal" text-anchor="start" fill="#c09878" >&amp;</text>
<text x="396.2" y="199" font-family="'Liberation Sans', Arial, sans-serif" font-size="4.5" font-weight="bold" font-style="normal" text-anchor="start" fill="#c09878" >+</text>
<line x1="324" y1="212.5" x2="333" y2="211.5" stroke="#c8c8c8" stroke-width="0.5"/>
<line x1="345" y1="212.5" x2="354" y2="212.5" stroke="#c8c8c8" stroke-width="0.5"/>
<line x1="324" y1="214.9" x2="333" y2="214.4" stroke="#c8c8c8" stroke-width="0.5"/>
<line x1="345" y1="214.9" x2="354" y2="214.9" stroke="#c8c8c8" stroke-width="0.5"/>
<line x1="324" y1="217.3" x2="333" y2="217.3" stroke="#c8c8c8" stroke-width="0.5"/>
<line x1="345" y1="217.3" x2="354" y2="217.3" stroke="#c8c8c8" stroke-width="0.5"/>
<line x1="324" y1="219.7" x2="333" y2="220.2" stroke="#c8c8c8" stroke-width="0.5"/>
<line x1="345" y1="219.7" x2="354" y2="219.7" stroke="#c8c8c8" stroke-width="0.5"/>
<line x1="324" y1="222.1" x2="333" y2="223.1" stroke="#c8c8c8" stroke-width="0.5"/>
<line x1="345" y1="222.1" x2="354" y2="222.1" stroke="#c8c8c8" stroke-width="0.5"/>
<circle cx="339.2" cy="217.4" r="5.6" fill="#7cbf1e"/>
<circle cx="339.2" cy="217.4" r="4" fill="#84c826"/>
<text x="339.2" y="218.2" font-family="'Liberation Sans', Arial, sans-serif" font-size="2.4" font-weight="bold" text-anchor="middle" fill="#eaf6d8">TensorRT</text>
<text x="372.2" y="223" font-family="'Liberation Sans', Arial, sans-serif" font-size="15" font-weight="bold" font-style="italic" fill="url(#sg)" stroke="#c8501f" stroke-width="0.4">SG<tspan fill="#f4c0a0" stroke="#d86a3a" stroke-width="0.9">L</tspan></text>
<path d="M361,216 L365,213 M362,219 L367,215 M363.5,221.5 L368,218" stroke="#d9a080" stroke-width="0.8"/>
<circle cx="362" cy="213.5" r="0.9" fill="#e08060"/><circle cx="366" cy="220.5" r="0.9" fill="#e08060"/>
<line x1="241.4" y1="254.2" x2="293.5" y2="254.2" stroke="#3a3a3a" stroke-width="0.95"/>
<path d="M290.5,251.8 L293.6,254.2 L290.5,256.6" fill="none" stroke="#333" stroke-width="0.8"/>
<line x1="296.8" y1="254.2" x2="379" y2="254.2" stroke="#3a3a3a" stroke-width="0.95"/>
<path d="M375.6,251.8 L378.7,254.2 L375.6,256.6" fill="none" stroke="#333" stroke-width="0.8"/>
<circle cx="241.4" cy="254.2" r="3.3" fill="#1f64ad" stroke="#222" stroke-width="0.5"/>
<circle cx="296.8" cy="254.2" r="3.3" fill="#a81c22" stroke="#222" stroke-width="0.5"/>
<circle cx="382.3" cy="254.2" r="3.3" fill="#2a9648" stroke="#222" stroke-width="0.5"/>
<text x="269.5" y="250.1" font-family="'Liberation Serif', 'Times New Roman', serif" font-size="7.2" font-weight="bold" font-style="normal" text-anchor="middle" fill="#1a1a1a"  stroke="#1a1a1a" stroke-width="0.22">Prefill</text>
<text x="338.4" y="250.1" font-family="'Liberation Serif', 'Times New Roman', serif" font-size="7.2" font-weight="bold" font-style="normal" text-anchor="middle" fill="#1a1a1a"  stroke="#1a1a1a" stroke-width="0.22">Decode</text>
<text x="304" y="268.0" font-family="'Liberation Serif', 'Times New Roman', serif" font-size="7.3" font-weight="bold" font-style="normal" text-anchor="middle" fill="#1a1a1a"  stroke="#1a1a1a" stroke-width="0.22">Total Latency</text>
<rect x="434.5" y="172" width="107.5" height="81.30000000000001" fill="#e8e8e8"/>
<rect x="542" y="172" width="42.60000000000002" height="60.19999999999999" fill="#f5d1d3"/>
<rect x="542" y="232.2" width="42.60000000000002" height="21.100000000000023" fill="#fcefc8"/>
<line x1="542" y1="172" x2="542" y2="253.3" stroke="#3c3c3c" stroke-width="1.2"/>
<line x1="542" y1="232.2" x2="584.6" y2="232.2" stroke="#3c3c3c" stroke-width="1.2"/>
<rect x="434.5" y="172" width="150.10000000000002" height="81.30000000000001" fill="none" stroke="#3c3c3c" stroke-width="1.4"/>
<text x="488.2" y="209.8" font-family="'Liberation Serif', 'Times New Roman', serif" font-size="9.9" font-weight="bold" font-style="normal" text-anchor="middle" fill="#222"  stroke="#222" stroke-width="0.22">Model</text>
<text x="488.2" y="221.3" font-family="'Liberation Serif', 'Times New Roman', serif" font-size="9.9" font-weight="bold" font-style="normal" text-anchor="middle" fill="#222"  stroke="#222" stroke-width="0.22">Parameters</text>
<text x="563.3" y="199.8" font-family="'Liberation Serif', 'Times New Roman', serif" font-size="8.7" font-weight="bold" font-style="normal" text-anchor="middle" fill="#222"  stroke="#222" stroke-width="0.22">KV</text>
<text x="563.3" y="209.8" font-family="'Liberation Serif', 'Times New Roman', serif" font-size="8.7" font-weight="bold" font-style="normal" text-anchor="middle" fill="#222"  stroke="#222" stroke-width="0.22">Cache</text>
<text x="563.3" y="245.8" font-family="'Liberation Serif', 'Times New Roman', serif" font-size="7.4" font-weight="bold" font-style="normal" text-anchor="middle" fill="#222"  stroke="#222" stroke-width="0.22">Others</text>
<text x="509.8" y="265.0" font-family="'Liberation Serif', 'Times New Roman', serif" font-size="9.8" font-weight="bold" font-style="normal" text-anchor="middle" fill="#1a1a1a"  stroke="#1a1a1a" stroke-width="0.22">Memory Footprint</text>
<text x="67.6" y="318.2" font-family="'Liberation Serif', 'DejaVu Serif', serif" font-size="12.2" font-weight="normal" font-style="normal" text-anchor="middle" fill="#222" >min</text>
<text x="60.6" y="324.6" font-family="'Liberation Serif', 'DejaVu Serif', serif" font-size="6.2" fill="#333" textLength="15" lengthAdjust="spacing">θ∈Θ</text>
<text x="88.6" y="318.2" font-family="'Liberation Serif', 'DejaVu Serif', serif" font-size="11.6" fill="#222" stroke="#222" stroke-width="0.22" textLength="19.4" lengthAdjust="spacing"><tspan font-style="italic">L̂</tspan><tspan>(</tspan><tspan font-style="italic">θ</tspan><tspan>)</tspan></text>
<text x="63.6" y="341" font-family="'Liberation Serif', 'DejaVu Serif', serif" font-size="11.6" font-style="italic" fill="#222" textLength="13.2" lengthAdjust="spacing">s.t.</text>
<text x="88.8" y="340.8" font-family="'Liberation Serif', 'DejaVu Serif', serif" font-size="11.6" fill="#222" stroke="#222" stroke-width="0.22" textLength="73.5" lengthAdjust="spacing"><tspan font-style="italic">T̂</tspan><tspan>(</tspan><tspan font-style="italic">θ</tspan><tspan>;</tspan><tspan font-style="italic">H</tspan><tspan>,</tspan><tspan font-style="italic">W</tspan><tspan>) ≤ </tspan><tspan font-style="italic">T</tspan><tspan font-style="italic" font-size="7.8" dy="1.6">lat</tspan></text>
<text x="88.6" y="356.9" font-family="'Liberation Serif', 'DejaVu Serif', serif" font-size="11.6" fill="#222" stroke="#222" stroke-width="0.22" textLength="82" lengthAdjust="spacing"><tspan font-style="italic">M̂</tspan><tspan>(</tspan><tspan font-style="italic">θ</tspan><tspan>;</tspan><tspan font-style="italic">W</tspan><tspan>) ≤ </tspan><tspan font-style="italic">M</tspan><tspan font-style="italic" font-size="7.8" dy="1.6">budget</tspan></text>
<line x1="115.1" y1="364.6" x2="115.1" y2="375" stroke="#222" stroke-width="0.9"/>
<path d="M112.9,374.2 L117.3,374.2 L115.1,378.9 Z" fill="#222"/>
<text x="115" y="390.4" font-family="'Liberation Serif', 'Times New Roman', serif" font-size="8.3" font-weight="bold" font-style="normal" text-anchor="middle" fill="#1a1a1a"  stroke="#1a1a1a" stroke-width="0.22">Optimal Architecture</text>
<text x="66.6" y="407.2" font-family="'Liberation Serif', 'DejaVu Serif', serif" font-size="12" fill="#222" stroke="#222" stroke-width="0.22" textLength="109" lengthAdjust="spacing"><tspan font-style="italic">θ</tspan><tspan font-size="7" dy="-4.2">*</tspan><tspan dy="4.2"> = (</tspan><tspan font-style="italic">l</tspan><tspan font-size="7" dy="-4.2">*</tspan><tspan dy="4.2">, </tspan><tspan font-style="italic">d</tspan><tspan font-size="7" dy="-4.2">*</tspan><tspan dy="4.2">, </tspan><tspan font-style="italic">r</tspan><tspan font-size="7" dy="-4.2">*</tspan><tspan dy="4.2">, </tspan><tspan font-style="italic">d</tspan><tspan font-size="7" dy="-4.2">*</tspan><tspan font-style="italic" font-size="7" dx="-3.4" dy="6.2">m</tspan><tspan dy="-2">, </tspan><tspan font-style="italic">ρ</tspan><tspan font-size="7" dy="-4.2">*</tspan><tspan dy="4.2">)</tspan></text>
<circle cx="343.1" cy="325.0" r="1.95" fill="#c6c6c6"/>
<circle cx="441.3" cy="318.2" r="1.95" fill="#c6c6c6"/>
<circle cx="406.8" cy="343.4" r="1.95" fill="#c6c6c6"/>
<circle cx="263.4" cy="355.6" r="1.95" fill="#c6c6c6"/>
<circle cx="257.2" cy="349.3" r="1.95" fill="#c6c6c6"/>
<circle cx="267.0" cy="319.8" r="1.95" fill="#c6c6c6"/>
<circle cx="283.1" cy="331.2" r="1.95" fill="#c6c6c6"/>
<circle cx="419.1" cy="346.1" r="1.95" fill="#c6c6c6"/>
<circle cx="538.9" cy="345.9" r="1.95" fill="#c6c6c6"/>
<circle cx="503.5" cy="344.2" r="1.95" fill="#c6c6c6"/>
<circle cx="289.3" cy="322.1" r="1.95" fill="#c6c6c6"/>
<circle cx="300.2" cy="362.0" r="1.95" fill="#c6c6c6"/>
<circle cx="437.7" cy="344.0" r="1.95" fill="#c6c6c6"/>
<circle cx="410.3" cy="317.4" r="1.95" fill="#c6c6c6"/>
<circle cx="263.9" cy="329.7" r="1.95" fill="#c6c6c6"/>
<circle cx="450.1" cy="348.8" r="1.95" fill="#c6c6c6"/>
<circle cx="340.2" cy="362.4" r="1.95" fill="#c6c6c6"/>
<circle cx="382.0" cy="337.8" r="1.95" fill="#c6c6c6"/>
<circle cx="484.3" cy="372.9" r="1.95" fill="#c6c6c6"/>
<circle cx="319.2" cy="361.4" r="1.95" fill="#c6c6c6"/>
<circle cx="464.8" cy="336.8" r="1.95" fill="#c6c6c6"/>
<circle cx="540.1" cy="351.5" r="1.95" fill="#c6c6c6"/>
<circle cx="371.4" cy="377.1" r="1.95" fill="#c6c6c6"/>
<circle cx="291.6" cy="354.1" r="1.95" fill="#c6c6c6"/>
<circle cx="475.4" cy="361.3" r="1.95" fill="#c6c6c6"/>
<circle cx="508.6" cy="347.4" r="1.95" fill="#c6c6c6"/>
<circle cx="454.6" cy="363.1" r="1.95" fill="#c6c6c6"/>
<circle cx="420.0" cy="351.2" r="1.95" fill="#c6c6c6"/>
<circle cx="388.2" cy="369.1" r="1.95" fill="#c6c6c6"/>
<circle cx="492.6" cy="340.6" r="1.95" fill="#c6c6c6"/>
<circle cx="361.7" cy="369.5" r="1.95" fill="#c6c6c6"/>
<circle cx="296.4" cy="322.1" r="1.95" fill="#c6c6c6"/>
<circle cx="270.2" cy="350.6" r="1.95" fill="#c6c6c6"/>
<circle cx="491.8" cy="387.1" r="1.95" fill="#c6c6c6"/>
<circle cx="329.5" cy="347.7" r="1.95" fill="#c6c6c6"/>
<circle cx="533.3" cy="344.1" r="1.95" fill="#c6c6c6"/>
<circle cx="298.9" cy="331.9" r="1.95" fill="#c6c6c6"/>
<circle cx="316.0" cy="353.7" r="1.95" fill="#c6c6c6"/>
<circle cx="422.7" cy="334.6" r="1.95" fill="#c6c6c6"/>
<circle cx="356.8" cy="360.7" r="1.95" fill="#c6c6c6"/>
<circle cx="531.9" cy="378.1" r="1.95" fill="#c6c6c6"/>
<circle cx="400.6" cy="365.1" r="1.95" fill="#c6c6c6"/>
<circle cx="448.9" cy="316.6" r="1.95" fill="#c6c6c6"/>
<circle cx="515.9" cy="382.4" r="1.95" fill="#c6c6c6"/>
<circle cx="508.4" cy="383.1" r="1.95" fill="#c6c6c6"/>
<circle cx="363.7" cy="346.3" r="1.95" fill="#c6c6c6"/>
<circle cx="308.6" cy="326.0" r="1.95" fill="#c6c6c6"/>
<circle cx="348.0" cy="316.5" r="1.95" fill="#c6c6c6"/>
<circle cx="276.4" cy="343.3" r="1.95" fill="#c6c6c6"/>
<circle cx="430.2" cy="324.8" r="1.95" fill="#c6c6c6"/>
<circle cx="321.7" cy="341.9" r="1.95" fill="#c6c6c6"/>
<circle cx="355.2" cy="322.6" r="1.95" fill="#c6c6c6"/>
<circle cx="385.8" cy="353.6" r="1.95" fill="#c6c6c6"/>
<circle cx="348.8" cy="334.8" r="1.95" fill="#c6c6c6"/>
<circle cx="494.7" cy="331.5" r="1.95" fill="#c6c6c6"/>
<circle cx="404.5" cy="324.6" r="1.95" fill="#c6c6c6"/>
<circle cx="505.0" cy="375.2" r="1.95" fill="#c6c6c6"/>
<circle cx="405.8" cy="379.0" r="1.95" fill="#c6c6c6"/>
<circle cx="344.9" cy="331.2" r="1.95" fill="#c6c6c6"/>
<circle cx="501.8" cy="383.2" r="1.95" fill="#c6c6c6"/>
<circle cx="491.5" cy="377.0" r="1.95" fill="#c6c6c6"/>
<circle cx="352.7" cy="314.5" r="1.95" fill="#c6c6c6"/>
<circle cx="254.4" cy="336.0" r="1.95" fill="#c6c6c6"/>
<circle cx="323.8" cy="371.6" r="1.95" fill="#c6c6c6"/>
<circle cx="533.0" cy="362.6" r="1.95" fill="#c6c6c6"/>
<circle cx="532.5" cy="357.2" r="1.95" fill="#c6c6c6"/>
<circle cx="312.1" cy="331.5" r="1.95" fill="#c6c6c6"/>
<circle cx="305.0" cy="329.6" r="1.95" fill="#c6c6c6"/>
<circle cx="498.1" cy="357.4" r="1.95" fill="#c6c6c6"/>
<circle cx="441.9" cy="380.8" r="1.95" fill="#c6c6c6"/>
<circle cx="471.0" cy="353.1" r="1.95" fill="#c6c6c6"/>
<circle cx="463.4" cy="326.6" r="1.95" fill="#c6c6c6"/>
<circle cx="284.1" cy="325.0" r="1.95" fill="#c6c6c6"/>
<circle cx="540.1" cy="380.0" r="1.95" fill="#c6c6c6"/>
<circle cx="351.1" cy="359.2" r="1.95" fill="#c6c6c6"/>
<circle cx="285.3" cy="313.2" r="1.95" fill="#c6c6c6"/>
<circle cx="323.8" cy="348.0" r="1.95" fill="#c6c6c6"/>
<circle cx="352.1" cy="351.4" r="1.95" fill="#c6c6c6"/>
<circle cx="396.5" cy="357.7" r="1.95" fill="#c6c6c6"/>
<circle cx="403.1" cy="313.6" r="1.95" fill="#c6c6c6"/>
<circle cx="378.0" cy="327.7" r="1.95" fill="#c6c6c6"/>
<circle cx="297.7" cy="352.7" r="1.95" fill="#c6c6c6"/>
<circle cx="463.6" cy="359.9" r="1.95" fill="#c6c6c6"/>
<circle cx="343.8" cy="356.6" r="1.95" fill="#c6c6c6"/>
<circle cx="412.6" cy="379.4" r="1.95" fill="#c6c6c6"/>
<circle cx="277.8" cy="360.2" r="1.95" fill="#c6c6c6"/>
<circle cx="320.5" cy="335.8" r="1.95" fill="#c6c6c6"/>
<circle cx="477.7" cy="355.7" r="1.95" fill="#c6c6c6"/>
<circle cx="519.7" cy="359.4" r="1.95" fill="#c6c6c6"/>
<circle cx="429.8" cy="355.5" r="1.95" fill="#c6c6c6"/>
<circle cx="399.6" cy="371.6" r="1.95" fill="#c6c6c6"/>
<circle cx="381.7" cy="357.9" r="1.95" fill="#c6c6c6"/>
<circle cx="528.7" cy="349.3" r="1.95" fill="#c6c6c6"/>
<circle cx="282.5" cy="350.0" r="1.95" fill="#c6c6c6"/>
<circle cx="444.1" cy="324.3" r="1.95" fill="#c6c6c6"/>
<circle cx="365.5" cy="353.9" r="1.95" fill="#c6c6c6"/>
<circle cx="543.0" cy="389.9" r="1.95" fill="#c6c6c6"/>
<circle cx="400.7" cy="341.2" r="1.95" fill="#c6c6c6"/>
<circle cx="304.7" cy="339.4" r="1.95" fill="#c6c6c6"/>
<circle cx="462.6" cy="313.7" r="1.95" fill="#c6c6c6"/>
<circle cx="412.2" cy="349.9" r="1.95" fill="#c6c6c6"/>
<circle cx="277.4" cy="334.8" r="1.95" fill="#c6c6c6"/>
<circle cx="327.1" cy="323.1" r="1.95" fill="#c6c6c6"/>
<circle cx="417.2" cy="372.2" r="1.95" fill="#c6c6c6"/>
<circle cx="272.8" cy="316.9" r="1.95" fill="#c6c6c6"/>
<circle cx="436.3" cy="380.9" r="1.95" fill="#c6c6c6"/>
<circle cx="404.1" cy="332.5" r="1.95" fill="#c6c6c6"/>
<circle cx="278.8" cy="325.9" r="1.95" fill="#c6c6c6"/>
<circle cx="339.6" cy="338.2" r="1.95" fill="#c6c6c6"/>
<circle cx="473.8" cy="336.9" r="1.95" fill="#c6c6c6"/>
<circle cx="396.0" cy="327.3" r="1.95" fill="#c6c6c6"/>
<circle cx="321.1" cy="313.3" r="1.95" fill="#c6c6c6"/>
<circle cx="302.8" cy="352.8" r="1.95" fill="#c6c6c6"/>
<circle cx="526.4" cy="338.4" r="1.95" fill="#c6c6c6"/>
<circle cx="491.7" cy="352.3" r="1.95" fill="#c6c6c6"/>
<circle cx="367.4" cy="341.9" r="1.95" fill="#c6c6c6"/>
<circle cx="262.3" cy="323.2" r="1.95" fill="#c6c6c6"/>
<circle cx="322.7" cy="326.0" r="1.95" fill="#c6c6c6"/>
<circle cx="330.6" cy="332.8" r="1.95" fill="#c6c6c6"/>
<circle cx="333.9" cy="351.5" r="1.95" fill="#c6c6c6"/>
<circle cx="537.8" cy="372.5" r="1.95" fill="#c6c6c6"/>
<circle cx="258.5" cy="313.9" r="1.95" fill="#c6c6c6"/>
<circle cx="337.3" cy="332.0" r="1.95" fill="#c6c6c6"/>
<circle cx="421.7" cy="357.5" r="1.95" fill="#c6c6c6"/>
<circle cx="471.2" cy="368.5" r="1.95" fill="#c6c6c6"/>
<circle cx="463.2" cy="367.3" r="1.95" fill="#c6c6c6"/>
<circle cx="513.6" cy="371.3" r="1.95" fill="#c6c6c6"/>
<circle cx="466.2" cy="381.9" r="1.95" fill="#c6c6c6"/>
<circle cx="397.3" cy="383.8" r="1.95" fill="#c6c6c6"/>
<circle cx="487.4" cy="383.7" r="1.95" fill="#c6c6c6"/>
<circle cx="450.9" cy="371.6" r="1.95" fill="#c6c6c6"/>
<circle cx="315.0" cy="314.7" r="1.95" fill="#c6c6c6"/>
<circle cx="285.9" cy="343.0" r="1.95" fill="#c6c6c6"/>
<circle cx="413.6" cy="366.0" r="1.95" fill="#c6c6c6"/>
<circle cx="433.9" cy="370.5" r="1.95" fill="#c6c6c6"/>
<circle cx="392.8" cy="312.3" r="1.95" fill="#c6c6c6"/>
<circle cx="268.3" cy="334.8" r="1.95" fill="#c6c6c6"/>
<circle cx="394.2" cy="344.9" r="1.95" fill="#c6c6c6"/>
<circle cx="290.2" cy="333.8" r="1.95" fill="#c6c6c6"/>
<circle cx="416.3" cy="313.1" r="1.95" fill="#c6c6c6"/>
<circle cx="448.7" cy="337.0" r="1.95" fill="#c6c6c6"/>
<circle cx="401.0" cy="352.0" r="1.95" fill="#c6c6c6"/>
<circle cx="385.9" cy="322.2" r="1.95" fill="#c6c6c6"/>
<circle cx="514.1" cy="340.7" r="1.95" fill="#c6c6c6"/>
<circle cx="309.2" cy="362.0" r="1.95" fill="#c6c6c6"/>
<circle cx="492.1" cy="358.5" r="1.95" fill="#c6c6c6"/>
<circle cx="512.1" cy="376.5" r="1.95" fill="#c6c6c6"/>
<circle cx="523.9" cy="378.6" r="1.95" fill="#c6c6c6"/>
<circle cx="516.5" cy="347.9" r="1.95" fill="#c6c6c6"/>
<circle cx="357.7" cy="345.8" r="1.95" fill="#c6c6c6"/>
<circle cx="545.6" cy="380.0" r="1.95" fill="#c6c6c6"/>
<circle cx="328.5" cy="316.2" r="1.95" fill="#c6c6c6"/>
<circle cx="528.2" cy="368.3" r="1.95" fill="#c6c6c6"/>
<circle cx="465.7" cy="350.8" r="1.95" fill="#c6c6c6"/>
<circle cx="387.7" cy="341.6" r="1.95" fill="#c6c6c6"/>
<circle cx="335.3" cy="375.6" r="1.95" fill="#c6c6c6"/>
<circle cx="538.9" cy="357.6" r="1.95" fill="#c6c6c6"/>
<circle cx="442.8" cy="337.9" r="1.95" fill="#c6c6c6"/>
<circle cx="303.7" cy="319.8" r="1.95" fill="#c6c6c6"/>
<circle cx="470.9" cy="347.5" r="1.95" fill="#c6c6c6"/>
<circle cx="370.2" cy="357.1" r="1.95" fill="#c6c6c6"/>
<circle cx="504.9" cy="339.0" r="1.95" fill="#c6c6c6"/>
<circle cx="532.2" cy="388.3" r="1.95" fill="#c6c6c6"/>
<circle cx="507.9" cy="325.6" r="1.95" fill="#c6c6c6"/>
<circle cx="514.7" cy="360.4" r="1.95" fill="#c6c6c6"/>
<circle cx="422.2" cy="312.0" r="1.95" fill="#c6c6c6"/>
<circle cx="279.6" cy="318.1" r="1.95" fill="#c6c6c6"/>
<circle cx="362.4" cy="331.2" r="1.95" fill="#c6c6c6"/>
<circle cx="338.2" cy="313.9" r="1.95" fill="#c6c6c6"/>
<circle cx="372.0" cy="334.1" r="1.95" fill="#c6c6c6"/>
<circle cx="347.4" cy="348.2" r="1.95" fill="#c6c6c6"/>
<circle cx="450.8" cy="329.0" r="1.95" fill="#c6c6c6"/>
<circle cx="313.0" cy="347.9" r="1.95" fill="#c6c6c6"/>
<circle cx="264.0" cy="345.8" r="1.95" fill="#c6c6c6"/>
<circle cx="515.5" cy="389.7" r="1.95" fill="#c6c6c6"/>
<circle cx="469.9" cy="314.7" r="1.95" fill="#c6c6c6"/>
<circle cx="445.3" cy="344.6" r="1.95" fill="#c6c6c6"/>
<circle cx="358.2" cy="340.5" r="1.95" fill="#c6c6c6"/>
<circle cx="296.8" cy="312.2" r="1.95" fill="#c6c6c6"/>
<circle cx="329.9" cy="342.2" r="1.95" fill="#c6c6c6"/>
<circle cx="515.1" cy="329.0" r="1.95" fill="#c6c6c6"/>
<circle cx="369.2" cy="381.8" r="1.95" fill="#c6c6c6"/>
<circle cx="476.0" cy="315.5" r="1.95" fill="#c6c6c6"/>
<circle cx="522.0" cy="347.2" r="1.95" fill="#c6c6c6"/>
<circle cx="520.9" cy="372.8" r="1.95" fill="#c6c6c6"/>
<circle cx="529.0" cy="334.0" r="1.95" fill="#c6c6c6"/>
<circle cx="375.0" cy="354.4" r="1.95" fill="#c6c6c6"/>
<circle cx="428.2" cy="340.2" r="1.95" fill="#c6c6c6"/>
<circle cx="341.9" cy="343.1" r="1.95" fill="#c6c6c6"/>
<circle cx="480.7" cy="319.8" r="1.95" fill="#c6c6c6"/>
<circle cx="274.9" cy="354.9" r="1.95" fill="#c6c6c6"/>
<circle cx="458.9" cy="350.4" r="1.95" fill="#c6c6c6"/>
<circle cx="470.4" cy="384.8" r="1.95" fill="#c6c6c6"/>
<circle cx="498.3" cy="343.0" r="1.95" fill="#c6c6c6"/>
<circle cx="419.5" cy="340.1" r="1.95" fill="#c6c6c6"/>
<circle cx="398.2" cy="331.9" r="1.95" fill="#c6c6c6"/>
<circle cx="488.5" cy="369.6" r="1.95" fill="#c6c6c6"/>
<circle cx="388.4" cy="382.4" r="1.95" fill="#c6c6c6"/>
<circle cx="525.1" cy="355.8" r="1.95" fill="#c6c6c6"/>
<circle cx="505.8" cy="356.8" r="1.95" fill="#c6c6c6"/>
<circle cx="424.8" cy="365.3" r="1.95" fill="#c6c6c6"/>
<circle cx="441.5" cy="329.5" r="1.95" fill="#c6c6c6"/>
<circle cx="484.6" cy="360.3" r="1.95" fill="#c6c6c6"/>
<circle cx="364.6" cy="359.3" r="1.95" fill="#c6c6c6"/>
<circle cx="295.1" cy="371.8" r="1.95" fill="#c6c6c6"/>
<circle cx="355.1" cy="329.0" r="1.95" fill="#c6c6c6"/>
<circle cx="357.3" cy="355.4" r="1.95" fill="#c6c6c6"/>
<circle cx="481.7" cy="332.3" r="1.95" fill="#c6c6c6"/>
<circle cx="434.1" cy="338.3" r="1.95" fill="#c6c6c6"/>
<circle cx="372.0" cy="362.1" r="1.95" fill="#c6c6c6"/>
<circle cx="373.7" cy="368.7" r="1.95" fill="#c6c6c6"/>
<circle cx="380.0" cy="349.7" r="1.95" fill="#c6c6c6"/>
<circle cx="392.9" cy="332.2" r="1.95" fill="#c6c6c6"/>
<circle cx="475.1" cy="379.1" r="1.95" fill="#c6c6c6"/>
<circle cx="383.5" cy="327.4" r="1.95" fill="#c6c6c6"/>
<circle cx="520.8" cy="340.5" r="1.95" fill="#c6c6c6"/>
<circle cx="472.9" cy="325.7" r="1.95" fill="#c6c6c6"/>
<circle cx="257.0" cy="327.7" r="1.95" fill="#c6c6c6"/>
<circle cx="507.9" cy="365.1" r="1.95" fill="#c6c6c6"/>
<circle cx="485.3" cy="336.9" r="1.95" fill="#c6c6c6"/>
<circle cx="354.1" cy="377.8" r="1.95" fill="#c6c6c6"/>
<circle cx="430.8" cy="349.2" r="1.95" fill="#c6c6c6"/>
<circle cx="422.7" cy="329.6" r="1.95" fill="#c6c6c6"/>
<circle cx="366.6" cy="334.7" r="1.95" fill="#c6c6c6"/>
<circle cx="414.7" cy="342.1" r="1.95" fill="#c6c6c6"/>
<circle cx="439.7" cy="350.2" r="1.95" fill="#c6c6c6"/>
<circle cx="313.8" cy="321.1" r="1.95" fill="#c6c6c6"/>
<circle cx="346.7" cy="376.5" r="1.95" fill="#c6c6c6"/>
<circle cx="454.5" cy="384.7" r="1.95" fill="#c6c6c6"/>
<circle cx="459.5" cy="334.9" r="1.95" fill="#c6c6c6"/>
<circle cx="324.1" cy="332.3" r="1.95" fill="#c6c6c6"/>
<circle cx="469.8" cy="340.1" r="1.95" fill="#c6c6c6"/>
<circle cx="377.2" cy="374.3" r="1.95" fill="#c6c6c6"/>
<circle cx="349.5" cy="324.2" r="1.95" fill="#c6c6c6"/>
<circle cx="455.1" cy="375.4" r="1.95" fill="#c6c6c6"/>
<circle cx="341.7" cy="348.4" r="1.95" fill="#c6c6c6"/>
<circle cx="535.2" cy="368.0" r="1.95" fill="#c6c6c6"/>
<circle cx="501.4" cy="368.7" r="1.95" fill="#c6c6c6"/>
<circle cx="350.0" cy="372.6" r="1.95" fill="#c6c6c6"/>
<circle cx="504.7" cy="329.5" r="1.95" fill="#c6c6c6"/>
<circle cx="393.4" cy="380.5" r="1.95" fill="#c6c6c6"/>
<circle cx="455.8" cy="354.9" r="1.95" fill="#c6c6c6"/>
<circle cx="307.8" cy="334.6" r="1.95" fill="#c6c6c6"/>
<circle cx="350.5" cy="340.1" r="1.95" fill="#c6c6c6"/>
<circle cx="444.6" cy="375.8" r="1.95" fill="#c6c6c6"/>
<circle cx="304.9" cy="366.9" r="1.95" fill="#c6c6c6"/>
<circle cx="362.5" cy="314.9" r="1.95" fill="#c6c6c6"/>
<circle cx="288.5" cy="363.9" r="1.95" fill="#c6c6c6"/>
<circle cx="478.2" cy="372.2" r="1.95" fill="#c6c6c6"/>
<circle cx="479.5" cy="345.8" r="1.95" fill="#c6c6c6"/>
<circle cx="408.3" cy="373.7" r="1.95" fill="#c6c6c6"/>
<circle cx="309.0" cy="370.9" r="1.95" fill="#c6c6c6"/>
<circle cx="363.7" cy="377.6" r="1.95" fill="#c6c6c6"/>
<circle cx="313.3" cy="375.8" r="1.95" fill="#c6c6c6"/>
<circle cx="386.7" cy="360.3" r="1.95" fill="#c6c6c6"/>
<circle cx="351.9" cy="366.9" r="1.95" fill="#c6c6c6"/>
<circle cx="410.5" cy="322.8" r="1.95" fill="#c6c6c6"/>
<circle cx="524.6" cy="388.2" r="1.95" fill="#c6c6c6"/>
<circle cx="435.9" cy="313.3" r="1.95" fill="#c6c6c6"/>
<circle cx="428.5" cy="379.2" r="1.95" fill="#c6c6c6"/>
<circle cx="482.4" cy="384.4" r="1.95" fill="#c6c6c6"/>
<circle cx="412.5" cy="334.7" r="1.95" fill="#c6c6c6"/>
<circle cx="445.6" cy="384.3" r="1.95" fill="#c6c6c6"/>
<circle cx="437.1" cy="366.7" r="1.95" fill="#c6c6c6"/>
<circle cx="345.3" cy="339.3" r="1.95" fill="#c6c6c6"/>
<circle cx="260.9" cy="337.8" r="1.95" fill="#c6c6c6"/>
<circle cx="247.9" cy="328.3" r="1.95" fill="#c6c6c6"/>
<circle cx="431.0" cy="365.9" r="1.95" fill="#c6c6c6"/>
<circle cx="474.8" cy="320.7" r="1.95" fill="#c6c6c6"/>
<circle cx="489.1" cy="363.4" r="1.95" fill="#c6c6c6"/>
<circle cx="369.7" cy="320.8" r="1.95" fill="#c6c6c6"/>
<circle cx="291.5" cy="313.3" r="1.95" fill="#c6c6c6"/>
<circle cx="460.1" cy="385.6" r="1.95" fill="#c6c6c6"/>
<circle cx="464.9" cy="319.2" r="1.95" fill="#c6c6c6"/>
<circle cx="491.2" cy="323.7" r="1.95" fill="#c6c6c6"/>
<circle cx="529.5" cy="383.9" r="1.95" fill="#c6c6c6"/>
<circle cx="345.6" cy="364.1" r="1.95" fill="#c6c6c6"/>
<circle cx="428.1" cy="370.3" r="1.95" fill="#c6c6c6"/>
<circle cx="322.4" cy="376.6" r="1.95" fill="#c6c6c6"/>
<circle cx="483.5" cy="352.7" r="1.95" fill="#c6c6c6"/>
<circle cx="300.2" cy="372.3" r="1.95" fill="#c6c6c6"/>
<circle cx="545.1" cy="370.1" r="1.95" fill="#c6c6c6"/>
<circle cx="482.2" cy="326.8" r="1.95" fill="#c6c6c6"/>
<circle cx="519.0" cy="332.9" r="1.95" fill="#c6c6c6"/>
<circle cx="425.4" cy="346.2" r="1.95" fill="#c6c6c6"/>
<circle cx="497.2" cy="323.4" r="1.95" fill="#c6c6c6"/>
<circle cx="423.4" cy="377.2" r="1.95" fill="#c6c6c6"/>
<circle cx="390.4" cy="326.5" r="1.95" fill="#c6c6c6"/>
<circle cx="506.0" cy="389.7" r="1.95" fill="#c6c6c6"/>
<circle cx="287.9" cy="350.5" r="1.95" fill="#c6c6c6"/>
<circle cx="389.2" cy="336.6" r="1.95" fill="#c6c6c6"/>
<circle cx="488.1" cy="344.0" r="1.95" fill="#c6c6c6"/>
<circle cx="417.4" cy="323.9" r="1.95" fill="#c6c6c6"/>
<circle cx="498.6" cy="387.5" r="1.95" fill="#c6c6c6"/>
<circle cx="342.3" cy="373.2" r="1.95" fill="#c6c6c6"/>
<circle cx="255.0" cy="320.3" r="1.95" fill="#c6c6c6"/>
<circle cx="456.8" cy="320.8" r="1.95" fill="#c6c6c6"/>
<circle cx="536.9" cy="385.1" r="1.95" fill="#c6c6c6"/>
<circle cx="527.1" cy="373.7" r="1.95" fill="#c6c6c6"/>
<circle cx="438.5" cy="334.9" r="1.95" fill="#c6c6c6"/>
<circle cx="432.4" cy="333.5" r="1.95" fill="#c6c6c6"/>
<circle cx="337.6" cy="367.7" r="1.95" fill="#c6c6c6"/>
<circle cx="282.1" cy="363.1" r="1.95" fill="#c6c6c6"/>
<circle cx="292.4" cy="341.0" r="1.95" fill="#c6c6c6"/>
<circle cx="430.9" cy="385.1" r="1.95" fill="#c6c6c6"/>
<circle cx="467.6" cy="375.9" r="1.95" fill="#c6c6c6"/>
<circle cx="395.9" cy="350.2" r="1.95" fill="#c6c6c6"/>
<circle cx="420.5" cy="319.6" r="1.95" fill="#c6c6c6"/>
<circle cx="249.2" cy="316.1" r="1.95" fill="#c6c6c6"/>
<circle cx="415.5" cy="354.8" r="1.95" fill="#c6c6c6"/>
<circle cx="448.9" cy="357.2" r="1.95" fill="#c6c6c6"/>
<circle cx="378.0" cy="365.7" r="1.95" fill="#c6c6c6"/>
<circle cx="297.2" cy="339.4" r="1.95" fill="#c6c6c6"/>
<circle cx="399.8" cy="321.5" r="1.95" fill="#c6c6c6"/>
<circle cx="264.6" cy="313.1" r="1.95" fill="#c6c6c6"/>
<circle cx="460.6" cy="342.4" r="1.95" fill="#c6c6c6"/>
<circle cx="487.5" cy="328.9" r="1.95" fill="#c6c6c6"/>
<circle cx="428.5" cy="330.3" r="1.95" fill="#c6c6c6"/>
<circle cx="327.1" cy="378.4" r="1.95" fill="#c6c6c6"/>
<circle cx="500.0" cy="348.0" r="1.95" fill="#c6c6c6"/>
<circle cx="434.6" cy="327.6" r="1.95" fill="#c6c6c6"/>
<circle cx="294.6" cy="329.0" r="1.95" fill="#c6c6c6"/>
<circle cx="336.9" cy="344.7" r="1.95" fill="#c6c6c6"/>
<circle cx="497.8" cy="364.4" r="1.95" fill="#c6c6c6"/>
<circle cx="496.3" cy="380.4" r="1.95" fill="#c6c6c6"/>
<circle cx="454.4" cy="345.9" r="1.95" fill="#c6c6c6"/>
<circle cx="324.4" cy="359.0" r="1.95" fill="#c6c6c6"/>
<circle cx="369.5" cy="329.3" r="1.95" fill="#c6c6c6"/>
<circle cx="458.1" cy="369.6" r="1.95" fill="#c6c6c6"/>
<circle cx="425.6" cy="351.7" r="1.95" fill="#c6c6c6"/>
<circle cx="380.4" cy="321.7" r="1.95" fill="#c6c6c6"/>
<circle cx="331.0" cy="368.9" r="1.95" fill="#c6c6c6"/>
<circle cx="448.9" cy="364.4" r="1.95" fill="#c6c6c6"/>
<circle cx="335.1" cy="361.1" r="1.95" fill="#c6c6c6"/>
<circle cx="513.0" cy="365.5" r="1.95" fill="#c6c6c6"/>
<circle cx="322.0" cy="320.2" r="1.95" fill="#c6c6c6"/>
<circle cx="543.2" cy="384.7" r="1.95" fill="#c6c6c6"/>
<circle cx="317.1" cy="344.0" r="1.95" fill="#c6c6c6"/>
<circle cx="427.1" cy="320.6" r="1.95" fill="#c6c6c6"/>
<circle cx="360.2" cy="324.4" r="1.95" fill="#c6c6c6"/>
<circle cx="486.1" cy="318.2" r="1.95" fill="#c6c6c6"/>
<circle cx="268.8" cy="340.3" r="1.95" fill="#c6c6c6"/>
<circle cx="328.0" cy="355.0" r="1.95" fill="#c6c6c6"/>
<circle cx="354.9" cy="336.2" r="1.95" fill="#c6c6c6"/>
<circle cx="270.0" cy="327.4" r="1.95" fill="#c6c6c6"/>
<circle cx="385.0" cy="313.2" r="1.95" fill="#c6c6c6"/>
<circle cx="407.6" cy="362.6" r="1.95" fill="#c6c6c6"/>
<circle cx="478.8" cy="338.8" r="1.95" fill="#c6c6c6"/>
<circle cx="542.9" cy="360.8" r="1.95" fill="#c6c6c6"/>
<circle cx="412.6" cy="327.6" r="1.95" fill="#c6c6c6"/>
<circle cx="375.1" cy="321.0" r="1.95" fill="#c6c6c6"/>
<circle cx="545.5" cy="354.2" r="1.95" fill="#c6c6c6"/>
<circle cx="454.3" cy="339.9" r="1.95" fill="#c6c6c6"/>
<circle cx="439.9" cy="359.2" r="1.95" fill="#c6c6c6"/>
<circle cx="502.0" cy="360.6" r="1.95" fill="#c6c6c6"/>
<circle cx="316.3" cy="366.1" r="1.95" fill="#c6c6c6"/>
<circle cx="434.7" cy="358.7" r="1.95" fill="#c6c6c6"/>
<circle cx="403.2" cy="357.4" r="1.95" fill="#c6c6c6"/>
<circle cx="306.5" cy="348.4" r="1.95" fill="#c6c6c6"/>
<circle cx="483.7" cy="366.0" r="1.95" fill="#c6c6c6"/>
<circle cx="378.8" cy="343.6" r="1.95" fill="#c6c6c6"/>
<circle cx="368.4" cy="367.7" r="1.95" fill="#c6c6c6"/>
<circle cx="507.6" cy="334.6" r="1.95" fill="#c6c6c6"/>
<circle cx="521.8" cy="367.6" r="1.95" fill="#c6c6c6"/>
<circle cx="449.7" cy="321.8" r="1.95" fill="#c6c6c6"/>
<circle cx="295.2" cy="358.1" r="1.95" fill="#c6c6c6"/>
<circle cx="382.4" cy="381.6" r="1.95" fill="#c6c6c6"/>
<circle cx="418.5" cy="383.0" r="1.95" fill="#c6c6c6"/>
<circle cx="267.0" cy="359.2" r="1.95" fill="#c6c6c6"/>
<circle cx="382.2" cy="370.7" r="1.95" fill="#c6c6c6"/>
<circle cx="462.8" cy="373.9" r="1.95" fill="#c6c6c6"/>
<circle cx="295.1" cy="366.4" r="1.95" fill="#c6c6c6"/>
<circle cx="465.7" cy="345.0" r="1.95" fill="#c6c6c6"/>
<circle cx="517.7" cy="354.7" r="1.95" fill="#c6c6c6"/>
<circle cx="436.2" cy="375.8" r="1.95" fill="#c6c6c6"/>
<circle cx="478.5" cy="388.5" r="1.95" fill="#c6c6c6"/>
<circle cx="405.3" cy="367.9" r="1.95" fill="#c6c6c6"/>
<circle cx="443.8" cy="362.5" r="1.95" fill="#c6c6c6"/>
<circle cx="540.8" cy="366.2" r="1.95" fill="#c6c6c6"/>
<circle cx="475.4" cy="331.3" r="1.95" fill="#c6c6c6"/>
<circle cx="274.1" cy="322.1" r="1.95" fill="#c6c6c6"/>
<circle cx="469.3" cy="360.4" r="1.95" fill="#c6c6c6"/>
<circle cx="316.3" cy="326.4" r="1.95" fill="#c6c6c6"/>
<circle cx="277.2" cy="313.5" r="1.95" fill="#c6c6c6"/>
<circle cx="453.6" cy="334.0" r="1.95" fill="#c6c6c6"/>
<circle cx="312.3" cy="337.0" r="1.95" fill="#c6c6c6"/>
<circle cx="281.9" cy="355.6" r="1.95" fill="#c6c6c6"/>
<circle cx="459.7" cy="378.2" r="1.95" fill="#c6c6c6"/>
<circle cx="373.7" cy="341.1" r="1.95" fill="#c6c6c6"/>
<circle cx="468.3" cy="329.1" r="1.95" fill="#c6c6c6"/>
<circle cx="384.6" cy="346.6" r="1.95" fill="#c6c6c6"/>
<circle cx="308.2" cy="314.0" r="1.95" fill="#c6c6c6"/>
<circle cx="294.4" cy="347.3" r="1.95" fill="#c6c6c6"/>
<circle cx="423.6" cy="324.4" r="1.95" fill="#c6c6c6"/>
<circle cx="423.0" cy="370.2" r="1.95" fill="#c6c6c6"/>
<circle cx="362.1" cy="364.4" r="1.95" fill="#c6c6c6"/>
<circle cx="457.8" cy="327.1" r="1.95" fill="#c6c6c6"/>
<circle cx="324.7" cy="364.5" r="1.95" fill="#c6c6c6"/>
<circle cx="468.1" cy="323.3" r="1.95" fill="#c6c6c6"/>
<circle cx="525.0" cy="362.6" r="1.95" fill="#c6c6c6"/>
<circle cx="511.8" cy="352.2" r="1.95" fill="#c6c6c6"/>
<circle cx="283.2" cy="336.4" r="1.95" fill="#c6c6c6"/>
<circle cx="497.1" cy="372.1" r="1.95" fill="#c6c6c6"/>
<circle cx="519.0" cy="377.5" r="1.95" fill="#c6c6c6"/>
<circle cx="342.6" cy="316.6" r="1.95" fill="#c6c6c6"/>
<circle cx="377.4" cy="312.3" r="1.95" fill="#c6c6c6"/>
<circle cx="390.8" cy="374.9" r="1.95" fill="#c6c6c6"/>
<circle cx="442.4" cy="370.2" r="1.95" fill="#c6c6c6"/>
<circle cx="301.0" cy="325.6" r="1.95" fill="#c6c6c6"/>
<circle cx="358.5" cy="375.1" r="1.95" fill="#c6c6c6"/>
<circle cx="417.4" cy="331.1" r="1.95" fill="#c6c6c6"/>
<circle cx="429.6" cy="314.9" r="1.95" fill="#c6c6c6"/>
<circle cx="499.7" cy="334.4" r="1.95" fill="#c6c6c6"/>
<circle cx="299.4" cy="346.9" r="1.95" fill="#c6c6c6"/>
<circle cx="370.9" cy="314.9" r="1.95" fill="#c6c6c6"/>
<circle cx="377.1" cy="336.2" r="1.95" fill="#c6c6c6"/>
<circle cx="534.1" cy="350.0" r="1.95" fill="#c6c6c6"/>
<circle cx="255.3" cy="341.3" r="1.95" fill="#c6c6c6"/>
<circle cx="373.8" cy="348.2" r="1.95" fill="#c6c6c6"/>
<circle cx="445.7" cy="352.7" r="1.95" fill="#c6c6c6"/>
<line x1="232.6" y1="405.5" x2="232.6" y2="311" stroke="#2a2a2a" stroke-width="0.9"/>
<path d="M230.1,312.6 L232.6,308.6 L235.1,312.6" fill="none" stroke="#2a2a2a" stroke-width="0.9"/>
<line x1="232.1" y1="405.5" x2="561.6" y2="405.5" stroke="#2a2a2a" stroke-width="1"/>
<path d="M243.4,314.2 L248.4,335.4 L256.8,354.1 L265.0,362.0 L278.9,370.2 L294.7,376.3 L320.4,381.4 L349.2,384.2 L379.8,386.6 L429.5,388.9 L479.5,392.4 L536.0,396.0" fill="none" stroke="#4d6276" stroke-width="1.25"/>
<circle cx="243.4" cy="314.2" r="2.25" fill="#dcb0ae" stroke="#8e3a36" stroke-width="1"/>
<circle cx="248.4" cy="335.4" r="2.25" fill="#dcb0ae" stroke="#8e3a36" stroke-width="1"/>
<circle cx="256.8" cy="354.1" r="2.25" fill="#dcb0ae" stroke="#8e3a36" stroke-width="1"/>
<circle cx="265.0" cy="362.0" r="2.25" fill="#dcb0ae" stroke="#8e3a36" stroke-width="1"/>
<circle cx="278.9" cy="370.2" r="2.25" fill="#dcb0ae" stroke="#8e3a36" stroke-width="1"/>
<circle cx="294.7" cy="376.3" r="2.25" fill="#dcb0ae" stroke="#8e3a36" stroke-width="1"/>
<circle cx="320.4" cy="381.4" r="2.25" fill="#dcb0ae" stroke="#8e3a36" stroke-width="1"/>
<circle cx="349.2" cy="384.2" r="2.25" fill="#dcb0ae" stroke="#8e3a36" stroke-width="1"/>
<circle cx="379.8" cy="386.6" r="2.25" fill="#dcb0ae" stroke="#8e3a36" stroke-width="1"/>
<circle cx="429.5" cy="388.9" r="2.25" fill="#dcb0ae" stroke="#8e3a36" stroke-width="1"/>
<circle cx="479.5" cy="392.4" r="2.25" fill="#dcb0ae" stroke="#8e3a36" stroke-width="1"/>
<circle cx="536.0" cy="396.0" r="2.25" fill="#dcb0ae" stroke="#8e3a36" stroke-width="1"/>
<text x="228.9" y="354.7" font-family="'Liberation Serif', 'Times New Roman', serif" font-size="6.4" font-weight="bold" font-style="normal" text-anchor="middle" fill="#222" transform="rotate(-90 228.9 354.7)" stroke="#222" stroke-width="0.14">Predicted Loss</text>
<text x="388" y="411.4" font-family="'Liberation Serif', 'Times New Roman', serif" font-size="5.4" font-weight="bold" font-style="normal" text-anchor="middle" fill="#222"  stroke="#222" stroke-width="0.14">Total Latency (ms)</text>
<g opacity="0.6">
<circle cx="536.4" cy="382.2" r="8.2" fill="none" stroke="#9a9a9a" stroke-width="1.2" stroke-dasharray="3,1.2"/>
<path d="M531,381 Q536,376 541,381 Q536,388 531,381 Z" fill="none" stroke="#9a9a9a" stroke-width="1"/>
<text x="553" y="389.5" font-family="'Noto Sans CJK SC', 'WenQuanYi Zen Hei', sans-serif" font-size="15.2" font-weight="bold" fill="#a3a3a3" transform="translate(553 389.5) skewX(-8) translate(-553 -389.5)" letter-spacing="0.2">老虎社区</text>
</g>
<g opacity="0.6">
<circle cx="565" cy="405" r="3.5" fill="#555"/>
<path d="M563,404 Q565,401.5 567.2,404.2 Q565,406 563.5,406.8" fill="none" stroke="#eee" stroke-width="0.8"/>
<text x="571.5" y="409.6" font-family="'Noto Sans CJK SC', 'WenQuanYi Zen Hei', sans-serif" font-size="10.8" fill="#9e9e9e" letter-spacing="0.1">光锥智能</text>
</g></svg>
</body></html>
